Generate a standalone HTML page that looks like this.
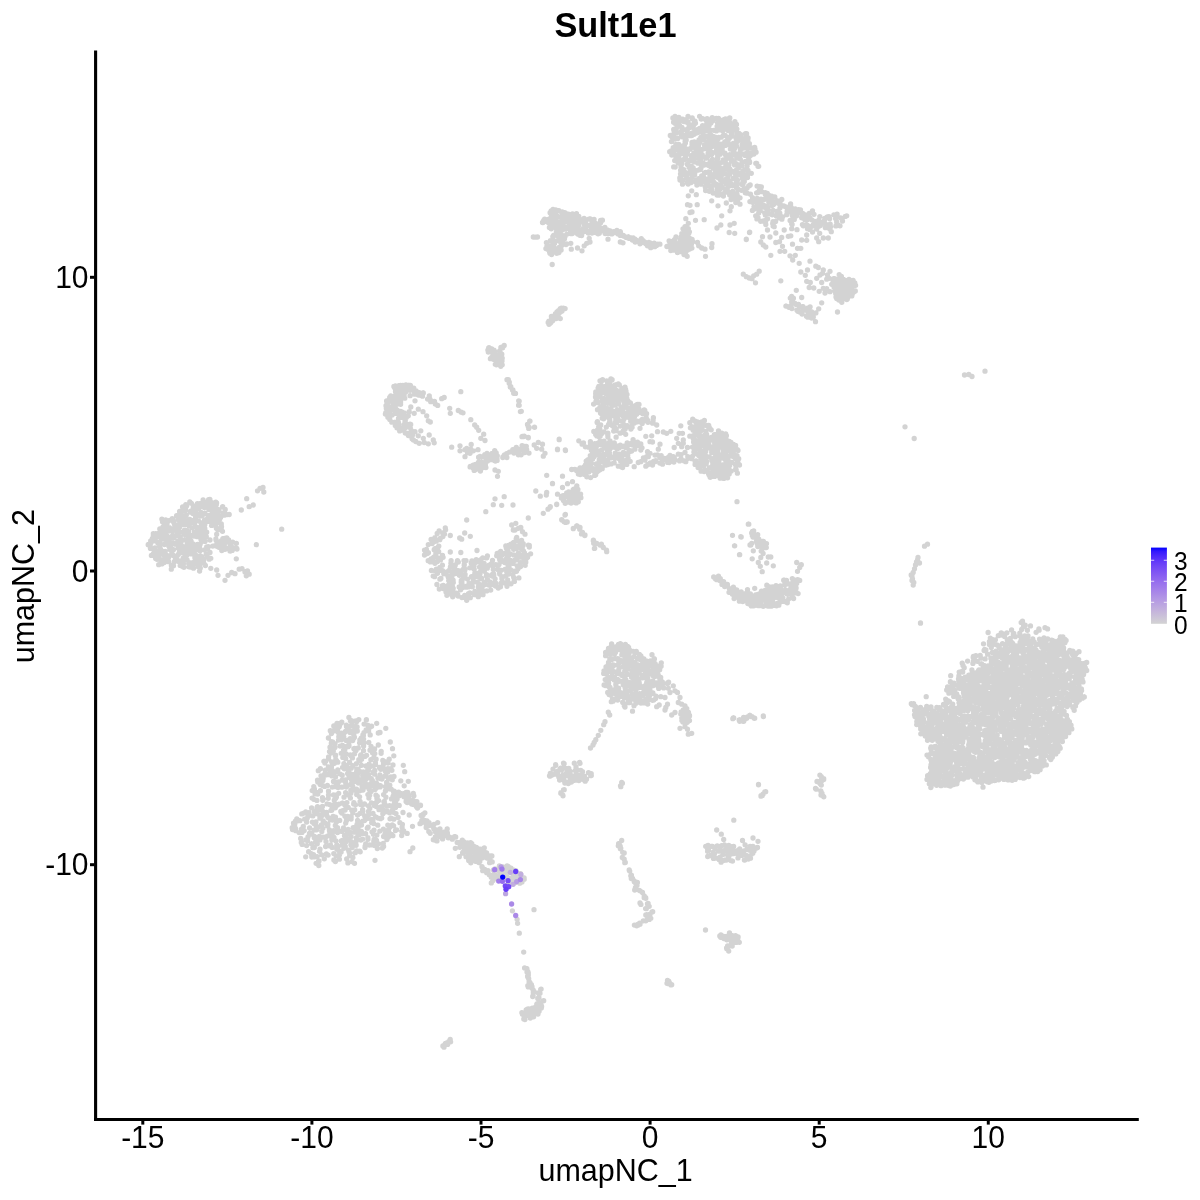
<!DOCTYPE html>
<html><head><meta charset="utf-8"><title>Sult1e1</title>
<style>
html,body{margin:0;padding:0;background:#fff;}
body{width:1200px;height:1200px;overflow:hidden;}
svg{display:block;will-change:transform;}
text{font-family:"Liberation Sans",sans-serif;fill:#000;}
.t{font-size:30.0px;}
.l{font-size:30.5px;}
.g{font-size:24.5px;}
</style></head><body>
<svg width="1200" height="1200" viewBox="0 0 1200 1200">
<path d="M723.2 120.0h0M672.9 117.9h0M675.0 116.3h0M678.9 117.5h0M682.7 119.1h0M686.2 119.7h0M688.0 116.4h0M692.3 118.4h0M699.6 116.3h0M709.7 120.1h0M708.8 120.0h0M712.2 117.7h0M718.5 118.4h0M729.8 118.0h0M673.6 122.2h0M675.6 119.1h0M680.2 120.4h0M682.9 120.3h0M685.4 121.7h0M688.0 122.8h0M692.2 117.9h0M702.7 118.6h0M706.3 120.4h0M707.1 118.6h0M712.6 121.0h0M716.3 118.4h0M719.3 122.1h0M725.5 118.8h0M729.1 118.4h0M729.4 121.6h0M675.0 123.3h0M677.9 122.0h0M683.8 121.6h0M686.3 122.0h0M689.1 124.7h0M695.0 121.2h0M694.1 122.3h0M695.5 123.1h0M701.2 119.0h0M706.5 124.6h0M709.4 124.7h0M710.9 123.1h0M717.6 122.8h0M722.6 123.7h0M722.0 120.9h0M726.1 122.7h0M729.0 123.1h0M732.8 123.9h0M734.9 121.7h0M674.2 122.4h0M679.2 124.8h0M677.8 126.6h0M681.9 127.5h0M688.1 122.0h0M689.6 125.0h0M694.7 123.7h0M697.9 129.5h0M702.6 125.6h0M702.3 129.3h0M706.9 126.5h0M707.9 125.0h0M717.1 126.5h0M717.8 124.9h0M721.1 125.0h0M721.6 125.7h0M726.1 122.1h0M731.8 125.7h0M733.1 125.7h0M736.5 124.4h0M676.0 129.7h0M676.5 128.1h0M683.7 129.7h0M688.9 127.9h0M687.7 129.0h0M693.4 125.5h0M694.9 129.9h0M699.6 128.5h0M703.3 129.0h0M705.0 127.5h0M708.4 128.3h0M713.8 130.3h0M716.4 130.9h0M717.9 130.1h0M723.2 129.9h0M724.6 127.3h0M726.8 126.7h0M732.6 125.8h0M735.6 130.2h0M740.8 134.9h0M673.7 129.5h0M674.1 131.8h0M680.8 132.2h0M681.5 131.2h0M687.5 132.7h0M693.1 127.5h0M694.2 132.2h0M694.3 132.5h0M698.5 132.3h0M703.6 131.7h0M707.9 130.9h0M710.6 130.1h0M719.9 129.9h0M722.4 130.0h0M722.6 130.7h0M728.1 130.6h0M731.0 128.9h0M731.5 133.9h0M736.9 129.1h0M739.0 133.4h0M746.6 133.7h0M674.0 134.8h0M676.3 132.9h0M681.3 135.1h0M684.6 135.3h0M690.4 133.6h0M694.1 134.3h0M693.4 132.4h0M696.4 133.1h0M703.1 134.4h0M706.5 136.5h0M712.8 136.3h0M710.1 134.4h0M715.2 137.2h0M718.6 137.4h0M723.8 134.9h0M727.5 137.2h0M731.6 133.1h0M736.8 134.5h0M737.7 133.8h0M740.8 134.6h0M745.5 133.7h0M671.7 136.8h0M682.7 136.9h0M686.2 140.1h0M685.7 136.6h0M689.4 135.7h0M691.8 135.6h0M697.1 142.5h0M700.8 137.4h0M703.6 139.5h0M709.0 139.0h0M712.9 139.0h0M713.0 136.5h0M717.9 139.2h0M721.2 137.2h0M725.1 135.5h0M728.1 139.5h0M731.7 136.2h0M736.0 137.6h0M737.8 133.9h0M740.7 138.3h0M745.3 138.1h0M745.5 138.0h0M671.4 141.6h0M674.7 139.1h0M677.8 138.5h0M685.3 139.3h0M685.6 139.3h0M685.4 143.0h0M692.0 142.3h0M694.3 142.0h0M699.5 142.7h0M699.0 139.9h0M706.8 143.2h0M708.9 141.0h0M710.3 140.1h0M714.0 138.2h0M716.3 139.8h0M725.0 142.0h0M728.0 141.9h0M729.3 138.2h0M733.3 143.5h0M736.3 139.0h0M742.1 140.2h0M740.3 140.0h0M747.9 139.8h0M748.1 137.8h0M675.9 144.3h0M678.8 144.3h0M684.8 144.1h0M685.1 141.3h0M692.0 144.3h0M694.1 143.4h0M697.5 144.7h0M700.0 141.4h0M704.4 144.9h0M707.3 142.1h0M711.5 141.8h0M716.9 141.2h0M713.4 142.4h0M721.0 144.1h0M724.8 142.0h0M726.3 143.5h0M732.9 143.9h0M737.3 141.4h0M742.1 144.9h0M746.1 142.1h0M749.4 143.6h0M673.2 147.7h0M677.1 145.9h0M677.4 149.4h0M682.4 146.2h0M685.7 148.6h0M690.3 149.2h0M691.7 147.2h0M692.7 147.1h0M698.5 145.8h0M697.9 147.6h0M705.4 146.3h0M708.7 145.3h0M712.1 146.6h0M716.1 145.5h0M718.8 148.2h0M722.1 148.0h0M725.3 145.4h0M729.2 145.0h0M730.3 145.5h0M736.5 145.9h0M741.7 148.0h0M743.7 148.1h0M745.8 146.1h0M750.3 147.3h0M754.7 147.5h0M671.1 151.0h0M677.3 147.1h0M681.6 149.7h0M683.0 148.8h0M683.9 149.3h0M689.5 148.9h0M695.4 148.3h0M696.1 149.5h0M702.5 149.3h0M704.4 148.5h0M706.5 148.7h0M710.7 151.7h0M712.2 152.9h0M716.6 149.7h0M723.3 152.3h0M722.2 148.7h0M732.1 146.6h0M730.4 149.0h0M733.6 153.0h0M735.0 148.1h0M740.6 149.3h0M746.8 154.0h0M747.3 148.3h0M751.3 147.8h0M755.0 149.2h0M672.5 154.3h0M673.6 151.8h0M680.8 153.0h0M684.0 151.9h0M683.2 153.7h0M688.7 149.6h0M695.2 152.3h0M693.8 153.4h0M700.5 151.3h0M698.8 154.0h0M708.1 153.4h0M708.7 150.2h0M711.6 154.6h0M717.1 153.7h0M718.7 152.8h0M721.3 152.2h0M725.0 153.2h0M733.1 150.1h0M734.0 151.1h0M736.7 155.2h0M740.2 152.0h0M744.5 153.9h0M747.6 152.4h0M749.5 153.0h0M753.9 150.9h0M756.1 152.2h0M671.8 155.1h0M677.6 154.7h0M678.9 156.9h0M687.5 151.6h0M686.1 154.6h0M691.0 155.6h0M692.3 158.8h0M696.9 154.5h0M702.2 154.7h0M704.1 156.8h0M707.6 156.4h0M709.1 152.8h0M712.2 152.4h0M717.7 156.8h0M720.2 154.2h0M728.4 158.0h0M725.6 155.0h0M729.9 154.6h0M734.7 154.7h0M737.9 154.1h0M740.2 155.1h0M745.1 155.4h0M748.1 153.7h0M750.4 155.4h0M753.9 154.1h0M676.0 158.0h0M679.6 160.3h0M679.0 159.4h0M685.5 157.1h0M689.0 160.5h0M694.2 158.8h0M692.3 156.8h0M699.0 158.6h0M700.5 159.1h0M705.8 157.7h0M707.0 157.4h0M712.4 159.3h0M717.2 158.7h0M717.9 158.1h0M725.2 160.0h0M725.9 159.3h0M730.8 155.7h0M731.4 159.2h0M736.7 158.2h0M739.9 153.4h0M740.3 159.1h0M746.6 161.9h0M748.7 159.2h0M674.7 160.6h0M679.0 161.0h0M678.1 162.7h0M682.0 163.5h0M683.9 159.4h0M687.7 163.3h0M693.9 160.1h0M697.9 163.2h0M700.8 162.4h0M703.2 163.0h0M705.8 158.2h0M710.2 161.7h0M718.0 162.5h0M723.3 160.0h0M723.6 162.0h0M725.8 163.5h0M731.4 161.1h0M733.9 161.7h0M736.5 163.9h0M742.9 161.9h0M745.6 161.5h0M749.5 161.6h0M679.2 163.3h0M681.1 165.2h0M687.5 164.6h0M690.2 159.9h0M690.1 160.9h0M694.4 161.9h0M699.6 163.3h0M703.7 165.2h0M707.1 164.8h0M707.6 164.2h0M710.8 165.3h0M715.1 163.1h0M718.2 165.7h0M720.3 162.9h0M725.9 163.9h0M729.0 164.7h0M734.6 164.9h0M734.7 164.5h0M741.1 164.5h0M741.8 163.7h0M747.1 166.0h0M749.6 162.4h0M673.7 166.9h0M675.2 167.1h0M681.0 167.0h0M683.8 169.7h0M689.0 167.2h0M690.4 169.1h0M691.4 166.5h0M699.3 163.3h0M698.4 170.1h0M703.3 164.6h0M710.4 166.5h0M709.2 165.8h0M713.1 168.2h0M716.2 166.9h0M720.4 168.1h0M724.7 167.6h0M729.8 168.8h0M728.3 168.0h0M736.3 170.1h0M739.1 167.6h0M741.8 165.5h0M744.6 169.9h0M746.6 169.6h0M680.6 170.3h0M682.7 169.9h0M683.1 171.3h0M693.2 168.0h0M691.8 169.3h0M694.8 172.8h0M700.3 169.6h0M704.5 173.0h0M708.6 171.8h0M712.8 165.3h0M715.0 168.1h0M719.8 171.0h0M723.8 169.6h0M728.5 169.7h0M732.6 171.3h0M735.3 171.1h0M742.9 171.5h0M743.9 170.6h0M747.5 170.1h0M748.0 170.3h0M680.5 173.8h0M681.7 175.3h0M686.6 173.0h0M690.5 173.0h0M694.8 170.3h0M694.6 174.9h0M701.0 168.1h0M705.5 172.5h0M709.6 172.5h0M712.4 174.9h0M715.9 174.9h0M720.2 176.7h0M725.5 173.9h0M728.3 175.8h0M730.6 172.1h0M735.5 174.3h0M739.9 173.2h0M740.4 175.0h0M745.7 176.4h0M748.1 172.2h0M747.5 174.9h0M679.8 177.9h0M681.0 175.1h0M687.7 173.8h0M686.4 175.9h0M693.3 173.8h0M694.5 174.5h0M699.1 178.3h0M701.7 176.0h0M703.4 176.7h0M709.9 175.6h0M715.2 175.9h0M715.3 170.9h0M719.8 175.3h0M721.3 176.1h0M723.6 172.8h0M730.0 174.1h0M735.9 177.4h0M736.2 179.1h0M736.3 175.2h0M742.5 178.4h0M743.6 175.0h0M680.8 176.5h0M688.0 178.9h0M692.2 177.0h0M696.3 180.2h0M700.1 181.2h0M704.2 179.8h0M706.4 179.1h0M712.8 178.1h0M715.9 184.1h0M717.3 177.3h0M720.1 179.5h0M721.5 180.4h0M725.7 179.5h0M729.6 181.1h0M733.2 178.3h0M737.1 182.2h0M737.5 180.1h0M744.6 176.6h0M683.1 180.1h0M688.1 184.0h0M687.5 183.1h0M691.2 180.5h0M695.7 181.8h0M697.2 182.2h0M701.1 184.2h0M710.1 181.0h0M706.4 183.8h0M710.6 176.3h0M714.1 182.3h0M720.2 186.9h0M721.9 182.6h0M725.9 181.2h0M728.0 180.0h0M732.7 185.0h0M736.3 181.0h0M742.9 182.2h0M743.3 181.7h0M744.3 181.4h0M691.1 182.6h0M696.9 185.0h0M701.6 182.3h0M708.4 185.8h0M708.6 182.3h0M713.5 185.2h0M720.4 187.3h0M718.4 185.0h0M726.4 184.1h0M729.1 183.9h0M731.0 183.5h0M732.7 185.7h0M736.2 185.6h0M741.6 184.3h0M743.0 184.3h0M749.4 185.8h0M750.2 185.0h0M705.3 187.1h0M709.7 186.5h0M713.6 185.1h0M718.5 188.8h0M717.6 186.3h0M722.3 187.5h0M729.2 186.0h0M736.5 187.4h0M736.5 186.0h0M738.2 189.1h0M744.1 188.8h0M747.1 188.1h0M748.7 185.9h0M705.6 190.5h0M711.5 189.4h0M709.3 191.3h0M717.1 189.5h0M720.6 188.5h0M727.2 192.0h0M727.3 189.0h0M726.8 189.0h0M732.6 191.3h0M737.9 189.9h0M741.5 190.3h0M742.7 189.8h0M750.5 194.1h0M713.1 193.0h0M717.2 191.8h0M719.0 191.6h0M725.1 192.2h0M729.7 195.0h0M729.7 192.5h0M730.9 195.7h0M734.0 193.6h0M740.0 197.8h0M745.3 192.8h0M747.0 193.2h0M717.1 195.1h0M718.7 195.2h0M721.3 194.0h0M723.4 196.1h0M733.7 198.8h0M734.9 196.7h0M737.1 194.7h0M731.1 199.5h0M733.5 196.7h0M736.6 197.9h0M737.2 198.0h0M755.8 163.3h0M758.0 166.3h0M751.3 173.3h0M670.3 135.5h0M669.7 151.7h0M682.5 184.2h0M680.0 180.0h0M691.7 190.8h0M688.3 195.8h0M696.3 194.7h0M687.5 204.7h0M690.0 205.3h0M697.2 204.7h0M690.0 212.5h0M692.0 212.0h0M685.8 218.7h0M688.3 223.3h0M695.5 220.3h0M704.2 219.7h0M685.0 226.7h0M687.0 229.2h0M685.2 228.8h0M683.0 228.8h0M686.5 228.3h0M688.3 228.7h0M684.7 231.2h0M686.3 233.6h0M689.4 231.8h0M681.8 233.6h0M684.6 234.0h0M685.5 232.4h0M688.9 233.1h0M681.3 236.7h0M684.6 236.6h0M687.3 235.4h0M689.2 237.8h0M674.8 239.3h0M676.0 236.8h0M680.9 239.1h0M682.9 239.5h0M684.9 239.0h0M689.0 238.5h0M692.1 239.5h0M669.1 240.8h0M673.0 241.3h0M675.4 243.0h0M680.2 239.9h0M683.6 239.4h0M686.5 241.1h0M686.9 242.5h0M688.0 242.3h0M692.8 241.7h0M669.6 245.2h0M672.2 241.4h0M672.8 241.8h0M677.2 244.3h0M679.0 244.0h0M683.5 243.4h0M686.3 243.7h0M689.2 243.0h0M691.4 244.3h0M666.9 246.5h0M669.8 244.8h0M673.4 246.9h0M676.1 244.8h0M677.9 245.1h0M679.8 246.0h0M684.1 244.7h0M685.7 245.5h0M689.3 246.5h0M667.3 246.4h0M670.6 246.8h0M675.6 249.4h0M678.5 250.0h0M680.6 248.7h0M683.2 248.7h0M687.6 250.0h0M690.4 246.0h0M691.9 248.1h0M673.3 250.2h0M678.8 249.8h0M680.8 251.6h0M685.7 251.6h0M685.8 252.0h0M689.6 249.1h0M684.0 253.2h0M684.0 254.6h0M697.5 242.5h0M698.7 245.8h0M701.7 248.0h0M705.0 249.2h0M705.5 256.3h0M712.0 243.7h0M711.7 247.5h0M687.2 256.3h0M677.5 252.5h0M670.8 250.5h0M711.7 200.8h0M718.0 205.8h0M726.3 203.0h0M731.3 206.7h0M730.0 210.8h0M721.7 215.8h0M720.8 225.0h0M717.0 228.0h0M730.0 225.0h0M734.2 223.3h0M729.2 232.5h0M734.7 233.3h0M749.5 232.5h0M746.3 239.2h0M737.5 200.0h0M740.0 204.2h0M735.8 202.5h0M757.1 186.1h0M760.8 187.8h0M761.4 186.9h0M759.2 191.0h0M765.1 192.6h0M765.3 194.5h0M750.5 194.3h0M756.6 192.8h0M758.0 192.6h0M761.6 191.7h0M767.3 193.5h0M768.5 194.8h0M756.5 198.9h0M757.1 198.3h0M760.8 201.6h0M769.4 196.0h0M768.8 202.0h0M771.3 197.8h0M774.8 197.0h0M752.5 197.6h0M758.2 199.1h0M761.0 199.1h0M764.1 199.5h0M766.7 198.3h0M771.7 196.2h0M772.2 200.3h0M777.5 200.9h0M781.8 199.4h0M749.9 201.6h0M752.6 202.3h0M757.2 202.7h0M761.1 203.0h0M763.6 205.2h0M772.3 202.4h0M775.1 202.4h0M778.2 203.3h0M789.4 206.7h0M790.6 204.0h0M754.0 206.8h0M755.5 207.4h0M761.0 207.3h0M764.6 207.4h0M766.9 206.2h0M768.1 209.3h0M773.5 204.4h0M779.9 208.0h0M780.2 203.6h0M785.2 206.6h0M790.2 207.0h0M791.2 207.3h0M795.2 209.0h0M752.4 210.4h0M754.2 209.1h0M760.2 210.7h0M759.2 207.2h0M767.8 209.5h0M767.6 208.5h0M772.1 205.4h0M773.1 210.3h0M783.8 206.0h0M787.4 209.8h0M792.0 210.2h0M794.0 209.9h0M798.7 209.6h0M800.5 209.8h0M759.0 211.6h0M758.7 213.1h0M766.1 212.5h0M767.2 211.5h0M772.2 214.8h0M777.4 211.1h0M776.4 215.9h0M779.8 213.1h0M787.1 211.5h0M788.0 211.9h0M791.7 212.6h0M798.0 212.8h0M800.6 211.1h0M802.7 213.5h0M804.6 214.7h0M809.2 213.4h0M835.8 215.3h0M755.7 215.8h0M765.3 215.0h0M764.6 212.9h0M769.6 213.8h0M771.8 213.5h0M776.9 215.8h0M777.2 214.0h0M781.9 219.2h0M786.7 214.7h0M788.3 211.5h0M792.7 212.3h0M796.6 214.6h0M802.1 214.6h0M807.3 216.1h0M814.0 214.3h0M829.0 216.7h0M833.9 214.8h0M837.1 214.1h0M845.3 216.4h0M756.9 218.9h0M758.0 217.6h0M764.7 220.7h0M767.6 218.8h0M773.0 221.6h0M779.1 217.9h0M782.6 216.8h0M790.1 220.5h0M792.3 215.6h0M796.7 215.8h0M801.7 217.8h0M806.9 220.1h0M811.7 219.8h0M818.8 220.1h0M819.8 216.6h0M824.8 218.3h0M827.4 217.0h0M829.6 218.7h0M836.3 217.6h0M835.6 218.5h0M840.6 217.8h0M760.7 221.3h0M762.7 221.2h0M765.6 221.4h0M772.7 223.5h0M775.6 221.5h0M791.6 223.5h0M794.3 219.4h0M804.9 219.7h0M810.0 218.1h0M814.7 221.5h0M817.1 224.0h0M824.4 220.6h0M821.1 222.2h0M825.3 224.1h0M830.2 224.1h0M836.7 221.9h0M842.5 221.0h0M773.1 226.1h0M792.1 224.4h0M802.4 224.6h0M806.2 224.9h0M807.5 225.4h0M812.0 226.2h0M821.1 223.0h0M820.3 225.6h0M825.9 225.5h0M826.0 224.3h0M830.6 226.8h0M835.9 225.9h0M837.2 224.1h0M810.0 228.5h0M813.2 225.0h0M818.9 226.3h0M825.4 227.7h0M827.5 226.6h0M829.8 229.1h0M809.7 229.4h0M816.7 229.0h0M828.7 227.1h0M756.7 163.3h0M758.7 166.3h0M751.3 173.3h0M747.5 177.5h0M759.7 186.7h0M846.7 215.8h0M812.5 210.8h0M749.7 232.2h0M746.3 239.5h0M765.8 224.5h0M767.5 230.0h0M762.5 236.7h0M770.0 237.0h0M775.8 233.0h0M774.2 226.7h0M784.2 230.0h0M791.7 228.7h0M797.0 229.7h0M803.3 225.8h0M807.5 228.7h0M812.5 232.0h0M806.7 235.0h0M790.8 235.8h0M788.3 236.3h0M781.7 237.5h0M775.8 242.5h0M779.5 241.7h0M760.8 242.0h0M763.3 245.0h0M765.8 247.0h0M782.5 246.3h0M792.5 244.2h0M797.5 248.3h0M800.8 248.3h0M780.0 251.3h0M784.7 251.3h0M770.8 255.3h0M790.0 255.8h0M795.3 255.3h0M792.7 260.0h0M799.2 263.3h0M810.0 261.2h0M801.7 240.0h0M806.7 240.3h0M819.7 233.3h0M816.7 238.0h0M818.7 241.7h0M823.3 238.0h0M828.3 238.0h0M831.3 231.7h0M840.0 225.8h0M743.3 274.2h0M746.3 276.7h0M749.2 278.0h0M752.0 278.7h0M753.7 275.8h0M756.7 274.2h0M759.2 271.2h0M755.5 282.8h0M780.8 280.8h0M834.6 278.7h0M839.2 274.6h0M841.4 276.4h0M849.0 279.5h0M833.7 278.6h0M834.7 280.0h0M837.1 279.3h0M838.7 279.3h0M843.5 279.5h0M846.4 280.6h0M853.1 280.4h0M833.1 280.9h0M835.2 282.3h0M837.8 282.4h0M841.9 282.5h0M846.2 282.9h0M848.5 280.6h0M851.4 281.9h0M854.8 282.9h0M831.7 284.3h0M834.7 280.9h0M838.9 287.4h0M841.9 285.4h0M842.8 284.7h0M845.4 283.9h0M847.7 285.3h0M851.3 284.8h0M855.6 285.3h0M834.1 287.3h0M838.6 288.9h0M837.1 287.1h0M842.2 288.6h0M844.9 287.0h0M849.7 286.1h0M851.9 287.1h0M850.9 286.2h0M834.9 290.8h0M838.1 288.9h0M838.8 288.3h0M845.3 289.0h0M845.6 289.1h0M848.0 289.8h0M852.5 290.2h0M855.3 291.0h0M837.0 291.6h0M841.1 291.9h0M842.0 294.6h0M845.6 291.3h0M848.3 291.2h0M851.7 288.6h0M854.2 291.7h0M835.7 293.6h0M840.1 295.6h0M839.9 294.0h0M844.3 293.2h0M846.1 295.9h0M848.8 296.2h0M852.3 293.9h0M836.0 297.0h0M837.2 296.9h0M841.0 297.2h0M844.9 296.2h0M851.8 295.9h0M836.7 298.5h0M838.9 300.0h0M841.3 298.9h0M842.9 298.9h0M847.3 298.9h0M846.8 299.6h0M841.8 302.3h0M815.8 266.2h0M818.3 267.5h0M823.3 270.0h0M830.0 271.3h0M822.5 273.3h0M820.0 275.0h0M827.5 275.0h0M816.7 278.3h0M826.7 279.2h0M829.2 278.3h0M821.7 282.5h0M807.5 270.0h0M800.8 272.0h0M805.3 275.3h0M806.7 281.3h0M810.3 282.5h0M809.2 287.5h0M813.8 288.0h0M819.2 291.3h0M823.3 288.3h0M826.7 288.7h0M825.0 293.0h0M830.0 291.7h0M837.5 312.0h0M821.7 302.8h0M818.7 308.8h0M796.3 290.3h0M801.7 297.5h0M815.5 321.7h0M791.6 296.5h0M793.4 298.2h0M790.3 298.1h0M791.9 298.3h0M791.7 302.0h0M792.7 300.7h0M786.1 306.1h0M789.6 307.2h0M790.6 305.8h0M795.0 303.4h0M798.5 304.5h0M803.0 306.7h0M785.9 306.1h0M788.9 307.3h0M791.9 308.5h0M796.5 304.7h0M799.5 306.8h0M802.4 306.6h0M808.1 307.8h0M810.1 306.8h0M797.0 310.2h0M797.9 311.3h0M803.1 310.6h0M802.9 309.5h0M806.8 308.7h0M811.2 311.7h0M799.8 312.1h0M802.1 314.0h0M807.8 311.7h0M811.7 311.9h0M811.9 312.9h0M815.9 312.9h0M806.5 316.2h0M807.8 317.2h0M811.0 315.2h0M813.3 316.9h0M808.1 316.9h0M811.6 318.1h0M553.0 209.5h0M551.2 211.0h0M555.7 210.0h0M557.0 210.3h0M562.2 212.0h0M563.7 212.3h0M550.1 212.7h0M554.8 212.7h0M556.8 215.7h0M558.9 210.7h0M561.7 212.5h0M565.3 213.0h0M572.5 213.9h0M576.5 213.7h0M551.1 217.1h0M552.3 212.9h0M555.2 214.7h0M560.8 217.0h0M561.0 217.0h0M565.1 216.4h0M568.5 214.2h0M570.5 216.0h0M572.2 216.7h0M575.9 216.6h0M578.8 216.5h0M544.6 219.2h0M549.1 219.2h0M551.1 217.3h0M556.1 218.2h0M556.2 220.3h0M560.0 221.8h0M563.1 221.2h0M565.8 218.0h0M569.0 219.9h0M570.8 219.0h0M575.0 219.5h0M578.0 219.5h0M583.4 219.2h0M584.1 218.5h0M588.8 219.1h0M590.2 218.9h0M594.1 219.3h0M600.6 220.4h0M543.0 222.6h0M543.7 220.5h0M547.3 219.7h0M547.4 221.7h0M552.5 222.5h0M553.8 219.4h0M560.0 221.9h0M562.0 222.3h0M566.1 221.7h0M567.2 220.7h0M572.1 220.7h0M572.9 219.4h0M578.7 222.4h0M580.8 221.6h0M582.1 220.8h0M584.9 221.4h0M589.6 218.8h0M592.1 223.5h0M592.0 220.8h0M595.3 223.2h0M600.7 221.1h0M602.4 220.2h0M548.6 222.8h0M552.5 224.1h0M556.0 224.2h0M559.4 225.7h0M561.4 223.0h0M563.2 225.2h0M566.4 221.8h0M569.1 225.3h0M571.2 224.0h0M574.8 224.0h0M576.2 222.7h0M580.7 220.0h0M584.1 224.0h0M585.7 223.1h0M590.5 224.8h0M593.7 222.6h0M594.5 225.6h0M597.9 224.2h0M600.6 222.8h0M549.4 227.4h0M550.7 226.5h0M555.2 225.5h0M558.1 227.1h0M563.5 227.2h0M566.5 228.3h0M569.7 226.8h0M569.3 227.0h0M572.4 227.8h0M575.9 227.4h0M578.7 225.5h0M583.0 228.7h0M584.8 225.4h0M587.2 225.7h0M590.9 226.6h0M594.1 227.5h0M598.4 226.8h0M598.9 224.8h0M604.9 227.5h0M604.9 227.7h0M551.2 228.8h0M555.8 227.8h0M558.4 231.7h0M562.3 228.6h0M562.4 229.0h0M565.2 227.5h0M569.3 228.7h0M573.1 229.7h0M575.2 228.4h0M579.6 230.3h0M581.3 230.3h0M582.4 230.0h0M585.6 229.4h0M590.6 230.5h0M592.8 229.8h0M595.4 229.5h0M599.7 231.6h0M601.7 228.3h0M603.2 229.8h0M607.4 229.8h0M556.4 231.6h0M558.0 231.0h0M562.1 230.0h0M565.3 229.2h0M569.2 228.6h0M570.2 230.3h0M572.9 230.6h0M576.5 232.4h0M579.7 231.8h0M580.6 232.3h0M585.3 231.3h0M588.3 233.0h0M590.6 232.4h0M595.5 232.5h0M599.4 228.7h0M599.9 230.9h0M604.0 231.2h0M607.7 231.3h0M610.1 230.8h0M613.8 231.7h0M615.2 232.4h0M554.1 235.2h0M557.8 231.9h0M560.0 233.4h0M562.7 235.6h0M566.7 234.3h0M570.4 233.6h0M572.3 233.5h0M577.7 234.0h0M579.9 235.3h0M581.8 233.9h0M592.0 233.0h0M599.3 233.3h0M598.1 233.8h0M605.2 233.5h0M608.2 233.4h0M611.8 233.9h0M553.6 235.3h0M555.9 235.0h0M557.1 235.5h0M561.7 235.1h0M564.5 238.8h0M565.0 236.4h0M581.6 235.5h0M550.4 240.6h0M552.8 236.7h0M557.6 240.6h0M560.5 241.6h0M561.5 238.4h0M546.4 242.6h0M552.9 239.5h0M554.1 243.1h0M559.2 240.2h0M560.7 242.3h0M562.7 243.1h0M548.3 245.7h0M552.2 246.5h0M552.8 243.7h0M554.5 243.5h0M561.6 245.6h0M566.0 244.5h0M566.6 243.9h0M546.9 246.4h0M548.0 245.5h0M552.2 246.5h0M553.9 247.6h0M559.4 247.1h0M560.7 247.4h0M545.9 248.6h0M547.7 249.3h0M550.8 249.9h0M557.5 248.7h0M556.9 252.8h0M561.1 250.0h0M549.6 252.0h0M551.7 249.8h0M554.7 251.7h0M558.9 252.6h0M549.9 253.4h0M551.6 254.5h0M556.8 253.3h0M542.5 222.5h0M533.3 237.0h0M537.5 237.0h0M535.5 237.2h0M552.2 264.5h0M571.3 249.2h0M570.8 243.3h0M577.5 248.0h0M582.0 250.8h0M584.2 245.8h0M586.7 243.3h0M590.0 242.0h0M589.2 238.3h0M608.0 239.2h0M620.3 242.0h0M623.0 242.8h0M647.5 245.8h0M640.0 243.8h0M614.7 232.6h0M615.7 232.7h0M616.9 230.5h0M615.4 232.7h0M618.1 233.9h0M620.3 231.7h0M620.3 235.4h0M620.4 231.9h0M623.6 236.1h0M621.8 235.3h0M626.3 237.4h0M623.7 235.8h0M623.3 235.3h0M625.4 236.8h0M626.8 237.5h0M628.4 237.0h0M628.2 236.8h0M629.2 238.4h0M632.4 240.0h0M631.3 237.9h0M633.2 237.9h0M635.0 239.1h0M635.2 242.0h0M636.6 241.4h0M636.6 240.5h0M641.3 238.7h0M639.8 241.0h0M642.5 240.6h0M643.1 240.6h0M642.5 242.4h0M644.3 242.7h0M644.9 242.1h0M646.2 244.1h0M646.3 242.7h0M647.2 242.9h0M649.0 242.7h0M650.1 243.0h0M650.7 247.7h0M648.9 242.5h0M654.2 243.1h0M653.2 243.6h0M654.7 246.7h0M655.7 244.3h0M656.5 245.4h0M657.9 244.2h0M659.9 244.2h0M549.0 321.6h0M550.4 322.9h0M548.9 321.1h0M549.0 324.3h0M548.2 322.4h0M550.6 322.8h0M550.1 323.2h0M551.4 319.4h0M551.6 317.9h0M552.0 320.2h0M550.9 322.5h0M552.6 320.8h0M555.0 317.4h0M551.4 316.5h0M553.5 317.6h0M552.4 316.8h0M556.2 318.5h0M555.6 318.0h0M554.9 317.9h0M555.4 318.7h0M557.6 315.7h0M554.0 317.9h0M555.6 316.1h0M560.3 318.6h0M554.6 315.3h0M558.0 313.7h0M559.2 312.0h0M555.5 313.7h0M556.8 312.4h0M558.1 312.6h0M558.9 313.4h0M559.5 311.8h0M558.5 310.7h0M557.0 311.9h0M558.0 312.2h0M560.7 311.7h0M562.0 310.9h0M561.9 308.5h0M565.1 308.6h0M561.4 308.2h0M560.3 308.7h0M563.3 308.2h0M502.7 347.8h0M489.0 347.6h0M491.8 349.0h0M500.9 347.4h0M500.9 347.3h0M502.5 347.2h0M487.9 350.1h0M492.3 349.7h0M494.1 351.8h0M494.6 351.3h0M499.7 351.0h0M488.3 352.0h0M492.8 353.4h0M494.0 350.2h0M497.8 354.9h0M500.6 353.2h0M491.6 357.4h0M494.2 356.6h0M494.3 355.1h0M497.5 355.2h0M501.8 354.2h0M490.4 358.7h0M491.6 358.5h0M494.8 356.5h0M498.2 356.1h0M502.2 358.2h0M493.4 359.3h0M497.3 360.6h0M498.0 360.5h0M502.0 361.0h0M495.3 364.3h0M497.0 362.5h0M500.1 362.4h0M500.9 362.0h0M496.4 364.8h0M498.9 364.2h0M502.2 364.8h0M500.9 365.4h0M504.2 345.5h0M488.7 348.0h0M500.8 366.3h0M507.0 379.7h0M508.3 379.6h0M509.2 383.3h0M509.3 382.2h0M510.8 386.7h0M510.2 387.0h0M512.5 390.0h0M512.9 389.9h0M513.7 393.3h0M515.5 393.4h0M518.7 400.8h0M519.2 401.1h0M519.2 405.3h0M518.6 405.2h0M521.3 411.3h0M520.4 411.6h0M529.7 421.2h0M530.0 421.1h0M527.5 424.5h0M528.1 425.9h0M529.2 427.5h0M528.7 428.4h0M534.5 427.2h0M534.6 427.3h0M522.0 436.7h0M522.3 436.5h0M524.2 436.2h0M523.8 436.5h0M528.3 437.5h0M528.3 437.8h0M400.5 385.3h0M399.8 386.6h0M395.4 385.9h0M393.9 386.4h0M397.0 388.4h0M402.9 385.3h0M405.9 384.8h0M394.5 387.5h0M398.4 388.6h0M404.1 390.2h0M406.5 389.5h0M405.3 387.1h0M395.5 391.5h0M397.4 393.0h0M398.2 392.1h0M405.9 391.8h0M404.0 394.2h0M390.8 395.8h0M395.4 395.5h0M397.9 393.7h0M400.7 393.7h0M401.9 394.0h0M389.5 399.3h0M396.3 399.3h0M393.9 397.2h0M401.9 397.8h0M399.5 399.3h0M404.3 394.3h0M386.6 401.0h0M387.4 402.3h0M389.7 397.4h0M395.9 401.1h0M395.3 401.2h0M397.8 397.6h0M404.8 398.2h0M387.0 402.5h0M389.3 401.6h0M392.5 399.9h0M396.9 404.3h0M397.8 404.0h0M386.0 405.7h0M389.2 406.4h0M393.0 406.4h0M393.6 403.9h0M400.6 404.3h0M400.6 401.9h0M386.3 408.3h0M390.3 408.5h0M392.5 408.8h0M396.0 409.2h0M385.9 412.3h0M390.4 410.3h0M394.6 410.5h0M397.5 410.3h0M400.8 411.4h0M385.8 413.9h0M385.4 414.0h0M388.1 414.5h0M392.1 415.1h0M395.1 413.4h0M400.8 412.2h0M402.3 412.2h0M404.1 412.8h0M387.9 417.2h0M390.3 414.5h0M399.0 414.8h0M402.0 415.7h0M402.1 417.4h0M406.3 417.4h0M389.8 419.5h0M398.5 418.5h0M399.4 417.2h0M403.9 415.8h0M405.1 416.8h0M391.8 422.2h0M394.3 422.5h0M397.4 421.9h0M398.4 422.4h0M405.0 421.0h0M405.3 420.5h0M395.1 422.3h0M398.5 424.3h0M403.8 424.6h0M405.2 426.9h0M408.1 424.6h0M410.7 424.5h0M395.3 425.6h0M399.8 427.7h0M405.2 425.9h0M405.6 427.6h0M410.1 424.1h0M396.9 427.8h0M402.7 430.1h0M404.6 428.3h0M410.3 427.8h0M411.2 430.3h0M399.7 430.9h0M405.3 433.0h0M407.2 433.3h0M410.8 433.0h0M412.7 434.8h0M408.4 435.6h0M411.6 434.9h0M412.1 432.1h0M411.1 436.0h0M412.1 438.7h0M413.4 439.9h0M415.8 441.5h0M408.3 385.3h0M398.9 385.6h0M405.0 387.9h0M406.7 386.2h0M411.5 388.4h0M403.0 388.4h0M407.1 389.8h0M409.8 388.9h0M413.8 388.2h0M416.1 390.8h0M400.3 391.3h0M410.1 390.3h0M410.7 389.1h0M415.7 391.2h0M418.4 395.0h0M423.3 392.9h0M404.8 391.0h0M410.1 395.7h0M414.7 394.2h0M420.0 393.8h0M421.1 395.6h0M422.5 396.2h0M409.1 385.4h0M410.4 385.4h0M415.8 391.2h0M412.3 389.7h0M414.4 391.7h0M419.2 392.6h0M423.0 392.8h0M420.5 394.5h0M422.9 393.5h0M429.3 395.9h0M427.6 399.1h0M429.8 398.9h0M429.4 398.8h0M430.7 401.7h0M432.5 401.3h0M434.5 401.3h0M435.3 404.1h0M437.7 405.4h0M441.7 398.7h0M444.2 397.5h0M415.0 400.8h0M410.8 407.0h0M418.3 409.2h0M423.0 411.7h0M414.2 413.3h0M426.7 415.8h0M428.3 420.8h0M430.3 422.0h0M409.2 411.7h0M408.3 415.8h0M415.0 431.7h0M420.8 430.8h0M418.3 435.8h0M423.3 438.3h0M429.2 435.0h0M433.3 440.0h0M434.2 442.8h0M428.3 443.8h0M424.2 442.5h0M419.2 443.3h0M449.7 408.3h0M450.3 413.3h0M458.3 410.5h0M461.3 412.2h0M463.0 412.8h0M460.8 391.7h0M470.8 419.7h0M474.7 425.0h0M476.7 427.2h0M478.7 430.3h0M483.7 434.2h0M480.8 438.3h0M485.0 440.5h0M471.2 444.5h0M451.7 447.2h0M460.0 445.8h0M460.0 450.8h0M465.0 449.7h0M467.5 452.5h0M465.0 456.7h0M470.0 453.3h0M473.3 450.8h0M478.0 449.7h0M470.8 449.2h0M466.7 448.3h0M516.3 447.5h0M522.1 445.7h0M526.3 446.3h0M514.2 450.7h0M517.6 449.3h0M520.6 449.2h0M524.8 446.3h0M526.7 449.7h0M494.7 450.7h0M509.5 452.1h0M512.8 449.7h0M515.9 448.3h0M518.7 452.9h0M519.6 450.4h0M523.7 449.9h0M492.1 453.5h0M496.2 453.0h0M511.9 451.6h0M513.9 453.0h0M518.4 454.8h0M521.1 454.8h0M524.7 452.5h0M529.0 453.1h0M480.0 456.4h0M478.6 457.2h0M484.8 454.6h0M487.0 453.5h0M487.1 455.6h0M490.9 457.7h0M495.2 456.1h0M497.2 455.8h0M502.9 457.0h0M504.5 454.8h0M506.6 453.7h0M519.1 454.3h0M481.1 456.9h0M480.8 456.6h0M485.8 458.5h0M487.5 458.0h0M489.9 459.1h0M494.2 455.6h0M497.0 458.2h0M497.3 455.8h0M502.9 457.3h0M504.9 456.1h0M506.9 457.6h0M478.9 462.1h0M481.6 462.2h0M487.6 460.9h0M488.9 460.1h0M494.5 460.4h0M495.4 461.0h0M502.8 457.5h0M475.6 464.4h0M478.6 462.1h0M480.0 462.6h0M485.8 462.1h0M485.4 465.2h0M491.5 459.6h0M497.1 460.4h0M470.3 466.5h0M473.2 465.1h0M476.6 468.1h0M479.4 465.0h0M482.1 466.0h0M485.2 466.7h0M470.1 466.9h0M473.5 468.4h0M479.9 467.0h0M483.5 467.5h0M485.9 467.6h0M474.2 470.4h0M475.4 469.8h0M480.4 471.0h0M534.2 445.0h0M538.3 442.5h0M542.5 444.2h0M536.7 448.3h0M541.7 449.2h0M545.0 453.3h0M543.3 456.2h0M559.2 439.2h0M557.5 449.2h0M565.3 450.0h0M495.0 470.0h0M498.3 471.3h0M497.5 476.3h0M546.7 475.3h0M562.5 476.2h0M552.5 483.3h0M535.8 491.0h0M540.3 496.2h0M546.7 492.5h0M546.3 495.0h0M556.7 504.2h0M550.3 506.7h0M548.0 509.2h0M543.3 513.3h0M528.3 518.0h0M495.0 498.8h0M504.2 496.7h0M493.3 504.7h0M501.7 505.3h0M513.0 505.0h0M485.8 511.7h0M466.7 520.0h0M612.1 379.7h0M602.6 379.6h0M606.7 380.8h0M610.9 379.0h0M611.9 380.0h0M602.2 386.4h0M601.4 381.5h0M607.6 382.7h0M609.6 383.5h0M609.8 382.0h0M614.8 385.1h0M618.3 383.9h0M618.6 384.8h0M598.1 388.1h0M599.8 386.4h0M603.8 388.5h0M607.5 387.4h0M611.8 386.2h0M614.6 386.1h0M614.7 386.4h0M616.5 384.7h0M619.3 384.9h0M625.0 387.2h0M598.8 386.3h0M604.8 386.6h0M606.2 386.5h0M609.2 390.9h0M608.0 387.9h0M613.8 390.4h0M616.5 390.4h0M619.9 390.9h0M621.9 388.3h0M625.6 389.4h0M595.8 391.9h0M598.5 389.5h0M600.1 389.1h0M605.8 392.4h0M607.0 389.0h0M612.8 390.1h0M615.6 391.3h0M613.9 391.4h0M620.1 391.4h0M623.9 392.6h0M625.4 389.7h0M626.0 391.2h0M595.7 393.7h0M600.3 394.4h0M602.2 391.7h0M606.1 393.5h0M608.5 394.5h0M610.8 392.7h0M612.8 393.3h0M618.2 394.4h0M618.9 394.8h0M621.1 395.1h0M627.0 394.4h0M626.2 394.0h0M595.5 397.0h0M599.4 396.6h0M605.1 393.2h0M605.6 393.4h0M608.2 397.1h0M611.4 398.9h0M614.5 394.5h0M617.1 398.5h0M622.7 396.7h0M622.9 396.5h0M626.6 394.9h0M598.3 396.7h0M603.4 398.7h0M604.2 398.6h0M609.2 400.3h0M610.5 398.0h0M617.5 397.4h0M618.1 400.7h0M622.4 399.1h0M626.8 398.3h0M627.3 400.8h0M596.4 399.1h0M597.9 402.7h0M601.8 400.9h0M603.8 401.6h0M605.9 400.5h0M608.6 400.5h0M612.5 401.1h0M615.4 397.9h0M616.7 399.5h0M621.7 399.2h0M623.8 401.7h0M626.0 398.7h0M627.8 400.6h0M636.9 404.7h0M595.9 401.7h0M599.7 407.8h0M603.2 403.1h0M603.9 403.3h0M608.3 403.0h0M610.5 401.6h0M613.3 402.1h0M618.5 404.0h0M618.5 403.5h0M624.3 405.2h0M626.2 404.4h0M630.4 403.0h0M632.3 405.9h0M636.2 405.1h0M637.7 404.7h0M593.6 404.1h0M600.6 406.8h0M603.7 408.0h0M606.5 407.6h0M610.4 408.9h0M611.8 405.3h0M614.9 405.2h0M621.6 407.8h0M623.3 406.5h0M624.8 405.3h0M632.0 406.0h0M634.7 408.6h0M637.4 404.4h0M639.0 404.5h0M597.5 409.7h0M602.0 409.1h0M605.2 408.4h0M606.3 410.4h0M611.0 408.4h0M614.9 411.4h0M617.8 410.0h0M617.5 409.8h0M622.8 408.8h0M627.8 408.2h0M629.2 409.9h0M631.3 408.7h0M632.0 407.8h0M636.9 409.8h0M639.0 409.2h0M644.2 409.9h0M601.1 413.5h0M604.4 410.4h0M608.2 413.2h0M608.8 412.8h0M610.7 413.3h0M614.0 411.9h0M621.2 410.3h0M619.8 413.3h0M622.7 412.4h0M625.7 413.2h0M632.8 412.9h0M633.1 411.4h0M636.6 414.2h0M635.9 411.5h0M640.5 412.5h0M644.8 410.5h0M600.5 412.9h0M604.1 415.0h0M608.8 413.3h0M609.7 413.9h0M617.5 414.5h0M619.0 414.2h0M622.5 415.5h0M627.0 417.2h0M629.4 412.8h0M633.6 413.9h0M634.6 415.1h0M636.7 413.5h0M642.9 413.7h0M643.9 413.4h0M646.6 413.6h0M629.3 415.7h0M630.7 416.5h0M633.1 418.2h0M634.5 416.7h0M642.3 419.4h0M646.1 415.6h0M645.8 419.0h0M646.6 419.0h0M653.4 417.7h0M637.6 421.3h0M641.7 419.9h0M646.8 421.0h0M646.4 419.1h0M647.5 420.1h0M653.1 420.0h0M637.3 421.2h0M637.6 421.8h0M645.5 420.1h0M645.1 420.6h0M640.6 422.1h0M642.2 423.6h0M648.0 422.3h0M652.6 423.2h0M653.1 422.7h0M605.6 416.9h0M613.6 415.8h0M603.6 418.8h0M606.6 415.8h0M609.5 418.6h0M615.8 419.1h0M617.6 418.5h0M625.0 415.9h0M629.6 417.8h0M602.2 418.2h0M609.8 420.0h0M609.6 417.3h0M618.7 420.3h0M621.6 420.8h0M623.9 419.0h0M630.7 421.3h0M631.4 420.4h0M609.5 422.6h0M614.8 422.7h0M616.4 422.7h0M624.0 424.8h0M623.1 421.4h0M634.4 423.0h0M608.6 424.4h0M613.5 426.5h0M614.7 427.4h0M620.2 426.1h0M624.2 426.8h0M624.7 425.5h0M627.1 425.6h0M612.2 425.4h0M616.0 430.7h0M613.7 431.1h0M623.3 430.8h0M625.9 427.5h0M625.5 428.1h0M631.8 426.2h0M632.1 427.3h0M616.2 429.4h0M620.1 433.2h0M622.7 432.3h0M625.0 429.2h0M630.9 429.0h0M616.1 437.2h0M625.7 434.3h0M597.4 421.6h0M597.1 422.3h0M597.4 422.8h0M600.7 424.9h0M606.3 427.1h0M593.8 431.4h0M598.7 426.7h0M597.6 429.8h0M599.6 433.1h0M599.8 428.9h0M607.9 436.9h0M595.7 434.6h0M601.5 433.7h0M604.0 431.9h0M607.9 433.2h0M607.8 435.2h0M596.9 435.9h0M598.7 436.4h0M600.1 436.3h0M633.1 439.6h0M578.8 440.8h0M590.4 441.7h0M594.9 443.7h0M600.0 441.2h0M604.0 441.1h0M610.0 440.9h0M608.4 443.4h0M632.7 443.4h0M635.4 442.5h0M640.8 444.0h0M582.1 444.2h0M583.5 442.8h0M590.5 443.4h0M597.9 443.2h0M603.7 445.1h0M609.5 445.7h0M611.5 444.5h0M614.3 442.8h0M620.3 445.2h0M621.7 446.7h0M627.2 442.8h0M627.8 445.3h0M631.5 443.1h0M637.5 442.1h0M642.0 447.8h0M585.4 446.8h0M588.6 447.2h0M592.0 447.4h0M597.1 445.4h0M600.4 444.4h0M602.1 449.6h0M604.9 447.3h0M609.9 449.1h0M614.0 447.2h0M616.6 445.8h0M621.7 446.1h0M624.0 446.2h0M627.2 446.4h0M631.9 444.8h0M634.9 449.2h0M636.2 445.6h0M638.9 445.4h0M641.0 447.6h0M591.4 450.2h0M595.4 448.9h0M599.1 452.9h0M607.8 447.4h0M616.4 448.0h0M617.3 448.8h0M619.0 447.9h0M623.3 452.4h0M625.7 447.5h0M629.1 450.3h0M631.6 451.0h0M640.8 450.1h0M592.6 452.5h0M594.3 453.6h0M598.7 450.9h0M605.0 447.9h0M607.5 451.7h0M609.4 452.8h0M615.2 453.2h0M619.2 454.1h0M624.6 454.3h0M626.1 454.0h0M629.9 451.5h0M590.3 455.6h0M595.4 453.9h0M598.5 455.3h0M602.0 456.4h0M603.8 454.5h0M604.4 455.2h0M611.1 457.8h0M621.1 454.6h0M622.0 456.3h0M627.7 455.2h0M587.7 459.9h0M589.7 460.0h0M590.8 459.0h0M594.0 456.8h0M601.3 458.1h0M603.0 458.0h0M609.3 456.2h0M609.3 455.3h0M612.0 457.1h0M615.1 458.2h0M618.3 457.5h0M621.9 457.3h0M627.5 459.1h0M628.1 458.5h0M586.2 461.1h0M588.9 459.5h0M589.9 464.3h0M592.6 459.0h0M599.2 460.0h0M603.2 460.6h0M605.3 459.8h0M607.5 460.9h0M614.2 462.9h0M618.8 458.6h0M620.6 461.1h0M624.6 460.8h0M629.4 461.3h0M630.2 461.3h0M580.1 468.0h0M585.5 465.0h0M591.4 463.5h0M591.5 463.6h0M596.3 463.9h0M599.8 462.5h0M604.8 463.9h0M605.7 465.2h0M622.2 465.8h0M622.0 462.4h0M581.6 468.4h0M584.6 466.9h0M589.4 466.9h0M589.8 468.7h0M597.5 463.9h0M600.6 467.5h0M602.2 468.7h0M608.0 464.5h0M611.1 463.9h0M618.3 466.2h0M621.6 467.0h0M624.2 464.0h0M626.8 464.4h0M583.2 469.2h0M586.3 471.7h0M589.7 468.4h0M594.5 469.1h0M596.8 471.3h0M597.8 470.7h0M622.6 467.6h0M577.3 470.1h0M586.0 473.9h0M588.3 468.8h0M589.5 471.1h0M597.0 471.8h0M599.9 469.8h0M597.6 470.8h0M584.0 474.3h0M586.8 476.8h0M588.8 471.9h0M640.0 428.3h0M656.7 425.0h0M657.5 431.7h0M651.7 435.8h0M645.8 436.3h0M650.0 441.7h0M652.5 442.0h0M663.3 432.0h0M666.7 433.3h0M670.8 431.3h0M660.0 444.2h0M658.3 449.2h0M647.5 451.7h0M650.0 453.3h0M648.3 456.7h0M645.0 460.0h0M640.8 461.7h0M638.3 462.5h0M634.2 466.7h0M645.8 466.2h0M652.5 465.0h0M655.0 461.7h0M657.5 455.0h0M660.0 457.5h0M663.3 460.0h0M662.5 464.2h0M668.3 457.5h0M669.2 462.5h0M673.3 456.7h0M675.0 460.0h0M678.3 454.2h0M680.0 460.0h0M674.2 447.5h0M676.7 438.3h0M679.2 433.3h0M680.8 425.8h0M682.5 433.3h0M683.3 440.0h0M681.7 446.7h0M685.0 452.5h0M687.5 447.5h0M688.3 458.3h0M685.8 461.7h0M683.3 443.3h0M678.3 443.3h0M600.0 380.8h0M602.0 380.3h0M689.8 422.7h0M692.7 419.2h0M694.8 420.9h0M698.9 422.5h0M704.4 420.4h0M692.0 426.6h0M697.4 423.6h0M697.4 421.8h0M701.7 424.1h0M701.7 421.8h0M708.2 426.4h0M697.1 427.1h0M696.3 423.1h0M702.8 425.0h0M702.6 425.9h0M706.6 425.4h0M708.7 425.3h0M690.4 427.8h0M695.6 427.1h0M695.8 429.4h0M698.8 429.7h0M701.5 427.5h0M702.1 429.2h0M708.8 426.0h0M709.9 428.3h0M718.5 430.9h0M693.2 430.3h0M697.4 429.6h0M701.3 430.6h0M700.0 431.4h0M706.0 431.5h0M711.2 429.8h0M725.7 434.0h0M696.5 431.7h0M697.2 434.8h0M699.2 434.7h0M702.3 436.3h0M706.6 434.5h0M714.4 434.6h0M716.1 434.3h0M721.9 433.9h0M721.8 433.1h0M689.8 436.2h0M693.3 435.7h0M694.2 436.6h0M699.2 436.0h0M700.6 439.1h0M704.8 435.1h0M705.9 435.9h0M708.7 439.5h0M711.4 437.4h0M716.4 436.5h0M720.4 437.5h0M726.4 435.6h0M693.3 438.7h0M693.6 439.2h0M694.4 439.7h0M698.4 440.4h0M703.6 440.4h0M705.4 436.8h0M707.8 437.6h0M712.6 439.1h0M714.0 440.4h0M717.7 441.9h0M719.2 435.5h0M724.4 438.3h0M729.3 441.3h0M726.0 438.6h0M693.6 442.1h0M694.5 441.4h0M695.4 443.7h0M701.4 441.4h0M705.2 439.5h0M707.0 441.9h0M711.0 439.8h0M712.2 440.2h0M715.4 444.1h0M718.0 441.0h0M722.1 442.0h0M724.2 439.7h0M726.5 442.5h0M697.3 444.8h0M700.5 445.9h0M701.3 443.4h0M706.5 446.2h0M708.9 444.7h0M711.1 447.8h0M714.7 443.6h0M721.6 445.1h0M726.0 444.9h0M726.3 446.6h0M730.2 443.3h0M731.0 442.5h0M692.4 447.1h0M696.6 446.6h0M696.0 446.3h0M699.4 446.1h0M704.2 445.6h0M709.5 448.1h0M706.7 447.3h0M711.8 447.5h0M715.5 444.9h0M720.3 445.8h0M722.4 447.8h0M722.8 446.8h0M732.7 446.2h0M733.5 444.5h0M735.6 445.4h0M694.4 449.6h0M695.6 449.2h0M699.4 448.4h0M700.0 451.7h0M705.0 449.0h0M705.7 451.6h0M712.6 450.7h0M716.0 449.5h0M717.7 448.8h0M723.3 450.0h0M726.7 447.3h0M727.8 447.6h0M732.3 449.2h0M737.4 449.7h0M693.9 451.9h0M700.5 453.6h0M703.6 451.2h0M703.8 451.5h0M711.9 452.4h0M714.5 452.8h0M717.9 452.4h0M717.7 450.9h0M723.5 452.6h0M723.7 455.2h0M728.0 450.6h0M733.9 449.5h0M733.6 454.0h0M738.0 450.4h0M696.9 454.1h0M698.8 455.4h0M700.5 455.5h0M704.0 454.4h0M709.4 456.9h0M711.7 452.2h0M718.4 455.5h0M719.0 456.8h0M723.5 455.0h0M726.2 455.3h0M731.1 453.9h0M733.8 455.6h0M737.0 455.6h0M692.4 456.3h0M700.8 457.9h0M705.3 455.4h0M704.7 457.0h0M706.8 456.6h0M712.4 459.6h0M714.5 457.6h0M718.4 454.0h0M722.7 458.0h0M725.2 456.5h0M729.8 456.0h0M733.5 456.8h0M737.6 458.6h0M736.4 457.7h0M738.7 458.7h0M691.8 458.7h0M696.1 461.0h0M697.9 462.7h0M701.9 460.9h0M705.7 460.3h0M706.6 461.7h0M713.8 459.6h0M712.4 460.4h0M715.3 458.1h0M718.9 460.8h0M725.7 460.3h0M727.9 461.1h0M728.1 458.7h0M735.5 458.5h0M738.1 459.4h0M695.1 464.4h0M695.1 461.3h0M702.6 466.0h0M704.3 464.8h0M706.2 463.7h0M712.6 460.3h0M712.0 460.7h0M716.3 463.2h0M718.1 462.7h0M722.2 464.8h0M726.1 462.5h0M728.0 464.1h0M731.7 462.5h0M736.4 463.4h0M738.0 463.0h0M698.1 467.5h0M701.5 463.4h0M703.6 466.3h0M711.8 459.9h0M712.8 463.9h0M712.0 466.7h0M717.2 465.8h0M720.8 466.5h0M723.3 468.4h0M727.1 465.4h0M729.7 465.4h0M735.5 464.7h0M736.5 464.3h0M739.5 465.0h0M700.5 466.6h0M703.5 464.6h0M704.2 471.3h0M709.2 467.9h0M713.6 468.5h0M714.4 470.2h0M717.9 469.7h0M724.6 465.0h0M724.0 469.5h0M727.8 469.3h0M730.3 470.7h0M735.7 468.8h0M737.4 464.5h0M701.1 471.2h0M705.6 470.3h0M707.4 471.6h0M711.0 474.8h0M712.6 472.0h0M715.9 469.8h0M718.4 475.5h0M721.5 470.7h0M727.8 473.6h0M727.0 470.7h0M731.2 471.1h0M736.2 469.9h0M709.0 474.8h0M713.6 476.4h0M713.9 473.7h0M717.5 473.5h0M723.9 474.9h0M724.2 472.0h0M727.0 474.5h0M729.2 474.1h0M737.4 473.2h0M704.1 471.6h0M708.6 473.8h0M710.0 476.7h0M714.5 476.4h0M720.4 475.1h0M720.2 478.2h0M723.8 478.4h0M727.6 477.8h0M710.2 477.3h0M718.2 475.8h0M573.9 489.1h0M573.2 489.6h0M576.8 485.8h0M568.6 491.8h0M573.1 490.7h0M577.9 489.4h0M566.7 492.9h0M568.1 492.6h0M571.1 493.5h0M574.2 491.9h0M577.4 493.2h0M562.3 496.0h0M564.2 495.4h0M567.7 494.4h0M568.8 497.3h0M572.6 496.4h0M577.0 495.4h0M580.6 494.1h0M580.9 497.7h0M561.4 498.0h0M562.7 496.5h0M567.4 497.0h0M568.2 497.0h0M572.9 497.8h0M576.8 498.9h0M576.8 496.4h0M563.5 500.4h0M568.8 501.4h0M572.0 501.7h0M573.9 502.2h0M575.8 499.4h0M578.3 501.8h0M565.2 503.3h0M565.6 502.7h0M568.3 502.0h0M571.1 503.1h0M576.2 502.9h0M557.5 494.2h0M562.5 487.5h0M567.5 483.7h0M572.5 481.7h0M552.5 483.7h0M562.5 476.2h0M556.7 504.5h0M550.0 507.5h0M559.2 439.7h0M557.5 449.7h0M565.5 450.5h0M571.7 469.5h0M565.0 515.0h0M565.4 514.4h0M561.7 519.7h0M561.9 520.0h0M564.2 521.7h0M565.6 522.4h0M566.7 522.0h0M567.2 522.0h0M573.3 528.3h0M573.3 528.7h0M576.7 525.8h0M577.0 526.0h0M579.7 529.2h0M580.0 527.4h0M582.5 532.5h0M581.5 533.9h0M585.0 535.0h0M584.8 535.5h0M593.3 540.8h0M593.4 540.1h0M596.7 543.3h0M596.3 543.5h0M600.0 545.0h0M601.4 544.1h0M603.3 547.5h0M603.2 547.1h0M606.7 551.7h0M606.5 550.1h0M594.7 548.3h0M594.4 548.4h0M593.7 543.3h0M593.8 542.9h0M737.0 501.7h0M748.3 524.2h0M732.5 535.3h0M740.8 536.7h0M734.7 545.8h0M739.7 554.7h0M750.0 545.0h0M661.2 455.6h0M670.0 455.3h0M681.0 454.7h0M646.6 456.6h0M655.0 455.1h0M674.3 458.0h0M687.8 456.7h0M643.4 457.9h0M655.8 460.6h0M653.6 461.4h0M662.2 460.7h0M664.6 458.4h0M667.7 462.4h0M681.1 458.8h0M679.6 460.9h0M643.8 459.6h0M650.3 462.8h0M655.9 461.1h0M673.9 462.0h0M671.8 458.0h0M684.3 461.0h0M647.7 464.7h0M659.8 463.1h0M583.8 467.4h0M584.0 466.9h0M592.9 468.7h0M597.5 468.5h0M574.9 469.3h0M576.7 470.8h0M581.0 471.9h0M587.2 468.1h0M587.6 466.7h0M590.4 468.3h0M594.4 471.6h0M597.1 469.4h0M584.1 471.3h0M578.4 474.0h0M586.3 471.7h0M590.1 470.5h0M595.7 474.7h0M598.4 470.7h0M580.2 474.6h0M584.7 473.8h0M594.7 475.4h0M590.6 477.6h0M439.1 530.9h0M445.6 529.8h0M437.2 533.5h0M444.5 534.1h0M442.7 533.0h0M434.9 537.7h0M442.9 536.6h0M431.1 539.4h0M439.8 539.7h0M440.5 538.1h0M515.9 541.1h0M516.2 538.8h0M521.6 540.3h0M436.2 541.2h0M436.1 540.4h0M513.7 542.4h0M519.4 541.5h0M517.4 540.4h0M523.2 543.6h0M428.3 544.6h0M432.2 543.5h0M434.4 541.6h0M438.8 546.1h0M505.8 545.9h0M511.0 544.2h0M511.1 546.6h0M520.4 544.4h0M521.0 541.9h0M528.4 545.1h0M529.3 545.4h0M425.8 550.1h0M434.9 550.2h0M434.2 549.7h0M438.1 547.1h0M506.3 548.1h0M508.5 545.4h0M513.6 546.0h0M514.2 545.5h0M517.8 546.3h0M523.0 545.4h0M529.3 547.1h0M424.5 550.1h0M426.4 549.5h0M434.9 548.7h0M500.7 551.4h0M504.9 553.4h0M508.0 550.8h0M513.7 549.3h0M516.6 548.3h0M521.5 548.5h0M522.2 548.5h0M424.5 555.0h0M428.4 552.7h0M497.2 553.3h0M499.6 552.6h0M505.7 552.9h0M507.4 555.6h0M510.2 553.8h0M513.7 554.9h0M518.4 552.9h0M517.1 555.7h0M523.4 550.8h0M524.5 552.8h0M530.6 553.8h0M427.3 553.5h0M431.1 558.8h0M433.8 557.1h0M443.1 557.3h0M487.4 556.0h0M496.7 555.7h0M499.3 557.7h0M502.2 554.8h0M508.4 556.0h0M516.0 555.6h0M522.1 555.3h0M526.9 555.5h0M527.6 557.2h0M428.2 560.7h0M430.4 561.9h0M432.9 560.8h0M437.4 561.4h0M438.2 557.8h0M466.0 560.6h0M476.2 559.6h0M480.9 559.7h0M482.7 557.8h0M486.4 557.9h0M486.8 557.8h0M492.5 560.3h0M499.7 559.7h0M506.6 558.5h0M504.9 561.0h0M510.5 560.5h0M511.5 561.2h0M515.2 560.0h0M520.7 557.2h0M524.1 559.9h0M526.5 558.2h0M434.9 563.3h0M436.9 561.8h0M440.5 559.9h0M451.1 560.7h0M457.5 560.6h0M457.3 561.4h0M464.0 560.6h0M471.2 562.9h0M471.9 560.9h0M474.7 563.0h0M478.6 561.9h0M484.1 563.4h0M491.8 563.3h0M499.0 564.6h0M501.1 558.8h0M504.7 562.5h0M506.1 562.0h0M513.2 563.4h0M516.8 559.9h0M520.6 562.6h0M524.3 561.3h0M442.4 565.2h0M450.9 563.3h0M455.3 565.0h0M454.4 567.3h0M458.3 562.1h0M464.3 564.2h0M464.2 565.3h0M470.7 567.6h0M473.7 563.2h0M474.2 562.5h0M479.5 567.1h0M481.5 565.1h0M490.6 565.1h0M489.1 565.2h0M495.8 564.6h0M501.2 561.6h0M505.2 561.0h0M508.1 565.4h0M511.0 563.0h0M513.8 560.9h0M519.6 566.9h0M525.8 562.2h0M431.4 570.5h0M439.9 567.3h0M442.5 570.7h0M450.4 566.9h0M464.9 569.2h0M471.7 567.5h0M474.2 569.3h0M482.7 565.7h0M486.7 566.7h0M493.2 566.2h0M494.0 564.9h0M497.8 569.6h0M505.0 569.3h0M509.0 566.4h0M517.2 565.8h0M517.8 569.1h0M525.2 565.3h0M435.3 571.1h0M436.3 569.2h0M441.1 570.4h0M449.1 570.4h0M454.4 569.9h0M457.4 570.5h0M460.5 572.5h0M463.6 569.0h0M464.9 570.1h0M469.8 567.8h0M473.3 567.8h0M474.0 565.9h0M480.6 571.3h0M484.3 571.2h0M483.7 569.9h0M487.3 568.2h0M493.3 569.5h0M498.2 569.2h0M501.2 570.3h0M506.6 571.2h0M507.0 569.3h0M510.7 569.9h0M520.5 566.4h0M437.5 573.3h0M443.8 573.8h0M446.3 572.1h0M447.9 576.0h0M451.9 572.7h0M455.2 573.5h0M457.4 573.3h0M460.1 570.9h0M465.1 574.5h0M474.8 573.5h0M477.3 573.5h0M479.9 574.3h0M484.1 571.1h0M492.4 574.4h0M493.6 574.0h0M499.7 574.1h0M499.5 572.8h0M508.5 571.9h0M508.4 570.3h0M514.1 571.1h0M516.5 571.3h0M433.2 576.1h0M434.6 576.7h0M448.5 577.6h0M454.3 571.4h0M459.4 575.3h0M471.5 576.6h0M478.7 576.8h0M486.4 575.8h0M486.6 574.7h0M491.2 575.4h0M493.8 574.9h0M495.1 578.8h0M502.8 576.8h0M505.7 575.8h0M508.1 574.2h0M512.9 574.8h0M513.7 577.3h0M518.9 577.9h0M439.9 579.2h0M440.9 578.4h0M448.4 577.2h0M452.0 576.0h0M463.5 578.3h0M463.5 577.2h0M467.5 579.1h0M473.7 576.3h0M473.0 579.0h0M476.7 576.3h0M481.7 578.3h0M484.6 582.4h0M487.5 579.7h0M492.1 576.0h0M496.1 583.4h0M501.9 577.6h0M501.9 578.7h0M507.7 580.0h0M514.2 580.7h0M448.7 580.6h0M449.5 582.2h0M453.1 580.2h0M461.3 580.3h0M461.9 581.7h0M469.1 583.3h0M472.1 583.4h0M474.3 581.6h0M478.9 584.2h0M481.0 578.8h0M483.8 583.9h0M490.0 581.8h0M494.3 583.0h0M502.3 581.4h0M514.4 581.4h0M436.9 584.5h0M443.3 585.4h0M448.1 585.3h0M452.5 586.7h0M453.3 582.4h0M459.2 587.0h0M462.0 583.7h0M461.2 582.2h0M466.6 586.1h0M471.0 586.0h0M477.3 582.2h0M483.2 584.3h0M483.6 584.4h0M489.2 585.2h0M489.9 585.2h0M495.8 584.8h0M494.5 585.2h0M501.4 582.9h0M505.2 583.3h0M507.8 581.5h0M511.0 583.8h0M442.4 585.6h0M443.2 588.5h0M449.8 588.7h0M462.9 587.5h0M466.5 587.2h0M470.9 585.7h0M472.3 586.7h0M478.3 586.9h0M479.5 589.2h0M482.2 587.3h0M485.3 584.5h0M495.6 586.0h0M500.5 586.7h0M507.0 586.3h0M439.3 589.1h0M446.1 588.1h0M450.3 592.8h0M453.2 588.3h0M452.9 590.8h0M460.6 589.8h0M468.4 586.9h0M469.9 593.0h0M474.9 591.4h0M481.0 592.8h0M482.8 591.1h0M486.7 590.9h0M490.7 590.1h0M498.3 588.0h0M446.0 591.9h0M451.4 594.3h0M452.4 593.4h0M457.7 594.3h0M456.5 593.1h0M468.5 593.6h0M477.8 592.8h0M479.9 593.9h0M483.0 594.7h0M452.7 596.8h0M455.0 594.2h0M458.1 596.1h0M461.9 597.6h0M464.7 595.3h0M467.4 598.1h0M470.3 597.7h0M474.7 594.7h0M478.3 596.7h0M482.8 593.8h0M446.9 595.3h0M463.4 597.4h0M467.7 598.0h0M450.3 535.5h0M459.7 538.0h0M461.7 539.2h0M464.7 533.0h0M470.3 536.3h0M450.3 552.0h0M460.8 552.5h0M477.0 550.5h0M435.8 554.2h0M442.5 555.3h0M438.7 551.7h0M511.7 525.0h0M515.8 523.3h0M513.3 530.0h0M518.3 528.3h0M520.8 527.5h0M522.5 531.7h0M525.0 534.2h0M516.7 537.5h0M515.0 530.0h0M466.7 600.3h0M445.3 528.0h0M718.5 576.2h0M716.7 579.7h0M719.3 579.7h0M720.3 578.6h0M794.0 580.0h0M797.6 579.6h0M799.7 580.4h0M715.6 579.1h0M719.8 580.6h0M723.6 581.7h0M723.9 582.6h0M784.2 580.1h0M783.7 580.2h0M786.5 580.4h0M792.3 578.6h0M793.5 580.5h0M796.7 580.8h0M798.7 580.6h0M722.0 584.4h0M722.9 582.0h0M723.9 584.8h0M727.4 584.4h0M780.4 585.8h0M784.9 582.9h0M786.7 583.7h0M787.1 582.6h0M792.0 583.3h0M796.5 582.8h0M796.8 583.3h0M724.5 585.3h0M727.6 586.3h0M733.4 587.1h0M766.8 585.2h0M768.9 586.7h0M772.3 587.0h0M776.0 585.6h0M779.5 587.0h0M784.6 585.1h0M788.4 584.0h0M791.4 584.8h0M794.6 587.0h0M795.7 585.7h0M724.7 586.5h0M729.4 588.6h0M732.5 589.8h0M765.1 590.3h0M768.7 589.1h0M772.7 587.8h0M774.2 589.3h0M776.3 588.0h0M779.5 589.2h0M780.6 588.9h0M785.4 590.0h0M790.4 589.2h0M791.9 588.0h0M796.1 588.0h0M796.0 588.3h0M731.5 590.6h0M731.9 590.1h0M735.8 589.6h0M736.7 589.8h0M741.2 592.0h0M761.5 591.2h0M766.0 591.1h0M767.5 590.3h0M770.8 592.0h0M775.5 592.3h0M775.7 591.4h0M777.0 590.1h0M780.6 591.6h0M786.8 590.6h0M787.1 590.9h0M790.7 589.6h0M793.0 590.9h0M796.4 592.3h0M729.0 592.3h0M734.9 592.7h0M737.3 593.7h0M740.8 593.0h0M742.9 593.8h0M746.0 593.4h0M748.5 593.9h0M750.4 594.0h0M755.6 594.9h0M761.0 592.3h0M763.6 592.9h0M764.8 593.2h0M770.1 592.9h0M772.2 594.0h0M778.7 594.6h0M778.1 594.7h0M780.7 593.6h0M784.0 592.4h0M784.9 591.0h0M789.1 593.2h0M792.6 592.1h0M795.3 592.9h0M798.1 593.6h0M732.5 594.2h0M736.6 594.6h0M740.5 596.5h0M742.8 595.1h0M745.4 595.7h0M748.9 597.5h0M755.3 597.8h0M757.9 594.3h0M759.2 595.4h0M761.7 596.8h0M766.3 595.2h0M767.6 595.7h0M769.6 596.5h0M772.4 597.0h0M776.8 596.4h0M778.0 597.7h0M780.4 596.6h0M782.0 594.3h0M787.2 594.0h0M791.9 595.6h0M792.1 596.4h0M734.1 598.6h0M739.0 597.9h0M738.6 597.6h0M742.7 598.0h0M746.4 598.0h0M749.5 598.7h0M750.9 597.1h0M759.2 597.3h0M756.4 598.4h0M763.2 596.3h0M761.8 600.8h0M766.1 597.0h0M769.7 596.8h0M772.7 598.3h0M774.0 597.7h0M778.5 597.8h0M780.8 598.8h0M782.2 597.9h0M787.3 601.1h0M788.7 598.8h0M793.1 598.1h0M793.6 598.5h0M739.4 601.2h0M740.4 600.0h0M743.8 599.6h0M747.9 602.5h0M751.4 598.8h0M752.3 602.7h0M755.1 600.8h0M758.4 600.6h0M761.2 600.1h0M765.8 600.2h0M768.6 601.2h0M770.2 599.9h0M772.5 601.1h0M777.5 603.3h0M778.8 597.2h0M782.9 598.1h0M786.9 601.3h0M787.3 602.8h0M742.8 601.5h0M747.8 603.5h0M750.7 603.4h0M753.1 601.5h0M754.2 604.6h0M759.5 602.2h0M759.4 605.7h0M763.2 606.3h0M766.1 604.4h0M770.1 602.5h0M771.2 606.2h0M774.4 605.3h0M776.5 603.7h0M779.3 602.9h0M783.4 601.4h0M786.6 602.3h0M750.8 605.0h0M751.4 605.9h0M753.9 605.8h0M757.8 605.5h0M761.4 605.0h0M763.7 605.9h0M767.8 606.1h0M770.0 606.1h0M773.1 603.6h0M776.6 605.8h0M778.8 605.2h0M747.5 589.7h0M754.7 588.3h0M796.7 562.5h0M801.3 564.7h0M799.7 567.5h0M797.5 571.3h0M713.7 577.0h0M718.7 578.0h0M752.5 531.4h0M751.7 533.0h0M755.8 534.9h0M752.3 535.5h0M753.2 533.8h0M757.7 534.7h0M756.8 535.0h0M753.0 537.0h0M755.6 537.5h0M758.8 539.1h0M754.4 536.9h0M756.4 541.4h0M759.3 542.4h0M763.4 541.3h0M757.3 543.8h0M761.5 542.8h0M762.6 541.3h0M766.5 543.6h0M757.8 546.5h0M761.6 544.9h0M760.3 544.3h0M764.9 544.9h0M761.6 547.1h0M763.6 547.8h0M766.3 547.6h0M762.2 548.8h0M764.9 547.2h0M761.2 551.1h0M763.1 553.5h0M737.0 501.7h0M748.8 524.2h0M732.5 535.3h0M741.2 537.0h0M734.5 545.8h0M739.5 554.7h0M750.8 545.0h0M753.3 550.8h0M752.2 558.8h0M760.8 557.5h0M768.3 557.0h0M770.8 557.0h0M758.3 562.5h0M760.3 566.3h0M766.7 563.0h0M773.3 565.8h0M762.2 571.7h0M751.7 543.3h0M753.7 530.8h0M207.2 503.3h0M209.9 499.3h0M212.7 503.0h0M189.8 502.0h0M191.4 503.3h0M203.1 499.9h0M207.9 501.6h0M208.6 499.7h0M215.8 502.2h0M185.8 504.7h0M186.7 505.7h0M193.9 506.0h0M197.4 503.7h0M198.8 503.8h0M199.9 503.6h0M203.4 504.5h0M211.1 503.6h0M215.5 506.8h0M212.6 504.6h0M216.6 502.9h0M222.5 506.9h0M183.4 508.8h0M185.8 507.4h0M193.3 507.5h0M195.7 508.0h0M201.9 506.6h0M201.0 506.2h0M209.0 505.6h0M211.4 507.7h0M214.0 509.1h0M216.3 504.8h0M218.8 509.6h0M222.7 506.7h0M179.6 511.4h0M182.6 507.0h0M185.6 510.3h0M190.6 512.2h0M193.0 509.2h0M195.7 512.6h0M198.8 508.5h0M204.4 507.6h0M208.9 509.4h0M210.8 507.2h0M216.9 509.9h0M219.1 511.5h0M224.6 512.3h0M225.2 509.4h0M181.1 513.4h0M184.4 510.3h0M186.3 515.0h0M190.6 511.1h0M194.3 512.4h0M193.9 512.6h0M201.0 512.3h0M203.5 514.2h0M208.3 515.4h0M212.1 512.6h0M214.9 512.2h0M214.8 514.0h0M216.8 512.1h0M223.4 513.1h0M226.4 514.7h0M229.2 514.5h0M169.7 520.3h0M176.6 515.7h0M180.7 518.1h0M181.5 514.7h0M186.0 515.5h0M189.8 519.4h0M192.9 513.5h0M195.5 517.1h0M197.9 514.7h0M201.7 515.6h0M204.9 513.2h0M208.9 515.9h0M212.7 516.1h0M213.5 516.5h0M217.3 515.7h0M220.9 516.5h0M224.2 515.2h0M224.9 513.4h0M162.0 519.3h0M167.4 521.7h0M172.2 518.7h0M173.1 519.7h0M179.9 520.4h0M180.0 517.7h0M184.1 519.3h0M184.4 517.0h0M193.2 522.8h0M194.4 521.7h0M200.5 516.0h0M204.6 519.8h0M207.6 518.6h0M212.1 519.6h0M210.8 520.5h0M216.8 517.6h0M219.7 519.0h0M220.5 517.6h0M161.9 519.1h0M162.5 521.8h0M165.7 519.9h0M172.6 520.2h0M178.4 519.7h0M179.7 523.2h0M182.6 521.4h0M187.3 520.6h0M190.1 520.8h0M191.5 520.3h0M195.7 518.5h0M198.7 521.1h0M203.3 522.4h0M210.2 521.6h0M210.5 520.9h0M216.6 521.7h0M214.4 521.4h0M220.8 523.8h0M165.5 522.9h0M167.1 523.6h0M173.6 522.0h0M174.4 524.0h0M178.7 525.0h0M183.0 524.6h0M192.2 527.8h0M194.7 525.0h0M201.4 524.6h0M204.2 525.8h0M204.8 524.5h0M207.2 521.4h0M214.8 523.4h0M215.0 525.3h0M221.3 524.0h0M163.0 527.0h0M164.6 527.2h0M169.4 527.6h0M173.7 528.4h0M176.6 526.0h0M179.5 527.3h0M185.7 524.6h0M189.2 526.0h0M187.6 524.7h0M197.1 527.4h0M203.3 527.9h0M202.5 525.2h0M202.8 526.4h0M211.6 525.4h0M215.7 524.6h0M221.5 526.7h0M159.8 529.0h0M164.1 529.0h0M165.7 529.0h0M168.1 531.2h0M172.3 531.1h0M175.5 528.2h0M178.2 531.7h0M180.8 532.2h0M184.5 530.2h0M186.5 530.6h0M194.5 531.9h0M198.5 531.1h0M204.8 528.4h0M200.8 528.6h0M205.4 532.9h0M216.4 528.3h0M220.2 528.1h0M221.7 530.4h0M155.6 533.7h0M157.3 533.6h0M161.9 533.5h0M160.7 531.4h0M166.8 531.1h0M172.7 535.1h0M172.3 530.8h0M177.2 532.5h0M178.2 532.4h0M184.6 530.3h0M184.6 534.6h0M188.7 531.6h0M190.1 535.1h0M194.8 532.3h0M199.7 533.8h0M202.4 529.8h0M206.7 532.2h0M217.7 529.6h0M153.3 535.3h0M153.3 533.7h0M156.8 535.9h0M160.3 537.4h0M164.8 533.8h0M173.4 536.4h0M172.3 536.8h0M177.2 535.5h0M184.1 534.3h0M184.4 533.3h0M188.2 535.1h0M188.2 535.7h0M193.8 536.1h0M198.1 535.6h0M202.0 533.5h0M203.1 536.9h0M206.3 536.7h0M152.4 538.4h0M156.4 536.7h0M163.4 538.3h0M162.9 539.1h0M167.6 536.5h0M169.3 540.0h0M172.3 537.9h0M174.0 537.4h0M180.2 537.3h0M184.4 539.9h0M187.0 540.2h0M189.1 539.6h0M190.0 538.1h0M197.1 536.7h0M200.2 535.8h0M205.8 535.8h0M150.7 541.0h0M151.1 542.5h0M155.0 538.5h0M159.5 542.3h0M163.3 538.2h0M164.7 539.3h0M167.3 538.8h0M173.8 543.0h0M180.2 539.6h0M177.8 541.2h0M187.8 538.9h0M191.1 542.5h0M191.1 541.2h0M201.0 539.4h0M148.2 544.7h0M148.4 544.5h0M155.6 540.9h0M157.9 543.1h0M164.4 544.6h0M167.0 543.9h0M169.7 542.3h0M169.0 546.4h0M175.1 544.2h0M181.2 546.2h0M180.9 542.3h0M187.3 543.8h0M188.5 546.0h0M193.0 544.0h0M197.5 544.5h0M197.6 544.6h0M201.7 541.6h0M150.2 545.3h0M159.4 545.6h0M155.0 548.0h0M163.9 544.3h0M165.8 543.8h0M170.5 546.9h0M170.9 548.4h0M178.3 545.4h0M181.4 545.7h0M185.0 546.6h0M190.9 545.9h0M193.8 548.0h0M197.9 546.7h0M200.2 544.0h0M150.5 548.4h0M150.4 548.0h0M154.0 550.1h0M156.1 551.2h0M160.3 548.7h0M162.5 553.2h0M169.9 549.5h0M170.5 548.2h0M173.0 550.0h0M180.5 548.4h0M178.2 547.9h0M183.5 548.5h0M183.7 550.1h0M191.6 548.3h0M189.5 547.9h0M196.1 549.6h0M197.6 546.1h0M199.6 547.5h0M153.3 554.0h0M155.1 556.6h0M157.6 553.0h0M160.9 549.8h0M165.2 551.3h0M171.8 552.3h0M173.4 549.7h0M179.7 550.7h0M182.7 551.7h0M184.1 549.0h0M187.5 550.7h0M191.0 549.5h0M193.0 552.2h0M195.1 553.8h0M151.4 555.4h0M154.9 554.8h0M155.4 551.4h0M159.1 555.5h0M163.7 551.7h0M164.2 555.2h0M171.4 555.0h0M173.4 555.5h0M179.3 550.3h0M178.3 554.5h0M182.3 552.7h0M185.2 554.0h0M187.0 554.9h0M191.5 553.9h0M196.1 556.4h0M196.5 555.6h0M155.7 558.4h0M158.9 559.1h0M162.0 560.9h0M166.7 555.1h0M166.3 559.4h0M171.5 554.9h0M174.3 561.7h0M176.9 558.4h0M183.4 557.9h0M183.7 558.6h0M187.1 560.0h0M191.3 553.4h0M194.9 557.8h0M194.9 557.5h0M199.9 556.7h0M201.7 556.7h0M157.0 559.3h0M161.5 560.0h0M164.9 559.1h0M166.4 559.0h0M168.4 557.8h0M175.4 558.8h0M175.7 559.0h0M180.5 561.2h0M183.2 558.2h0M184.1 559.7h0M188.7 563.4h0M194.8 561.5h0M198.3 557.9h0M200.8 561.1h0M160.3 563.9h0M164.2 562.5h0M168.6 561.7h0M171.4 565.4h0M178.7 561.5h0M182.6 563.9h0M183.4 563.8h0M189.7 562.6h0M191.9 563.0h0M198.0 563.0h0M196.4 561.2h0M161.8 563.9h0M173.5 565.7h0M180.2 565.4h0M183.9 567.3h0M190.1 567.1h0M193.5 564.2h0M199.6 565.5h0M198.3 566.8h0M181.8 566.0h0M183.4 567.1h0M188.9 566.8h0M193.5 568.2h0M199.4 566.4h0M200.3 568.1h0M199.6 571.1h0M205.3 534.8h0M210.0 539.9h0M210.0 540.1h0M205.0 541.4h0M212.7 546.1h0M206.7 546.8h0M207.7 549.2h0M200.0 550.7h0M204.5 549.9h0M200.4 555.9h0M206.2 554.3h0M207.2 556.7h0M203.8 559.5h0M203.5 560.4h0M203.9 563.3h0M201.4 560.7h0M205.4 565.5h0M221.7 541.3h0M222.9 538.7h0M226.8 537.8h0M215.9 539.0h0M216.0 540.0h0M221.5 540.7h0M224.7 538.3h0M227.1 540.2h0M228.6 539.9h0M215.1 545.7h0M216.8 541.5h0M219.6 541.9h0M223.7 541.0h0M223.4 542.5h0M228.1 542.2h0M232.7 542.1h0M236.4 543.3h0M216.3 546.1h0M218.9 547.3h0M220.4 546.4h0M224.2 545.1h0M226.8 547.9h0M230.6 544.8h0M232.0 548.2h0M218.1 546.8h0M222.0 547.2h0M222.3 548.1h0M225.1 549.3h0M231.2 545.3h0M237.0 549.1h0M235.3 547.9h0M221.4 548.6h0M221.8 550.5h0M230.0 550.9h0M230.3 551.1h0M232.2 550.4h0M236.8 548.5h0M216.7 534.2h0M222.5 531.3h0M208.3 546.7h0M210.0 552.5h0M209.2 559.2h0M210.8 558.3h0M236.3 558.8h0M210.8 568.3h0M216.7 570.0h0M218.0 575.3h0M225.0 580.3h0M228.0 575.3h0M231.7 572.5h0M235.0 573.7h0M239.2 569.2h0M242.0 568.7h0M245.0 572.0h0M247.5 570.8h0M249.2 574.2h0M246.3 575.8h0M256.3 544.7h0M281.7 529.2h0M241.3 510.0h0M246.7 498.7h0M249.2 506.7h0M253.3 505.0h0M257.5 490.8h0M260.0 488.3h0M263.0 487.5h0M263.8 492.0h0M171.3 569.2h0M158.7 564.7h0M964.5 375.0h0M968.8 374.5h0M972.0 376.5h0M985.0 371.2h0M905.0 426.8h0M914.2 438.5h0M924.5 546.2h0M927.5 544.2h0M917.5 560.0h0M919.5 563.0h0M915.5 565.0h0M913.2 572.5h0M911.2 575.0h0M912.5 578.8h0M913.2 585.0h0M912.0 576.2h0M920.5 623.2h0M916.5 562.0h0M914.5 568.8h0M912.0 580.5h0M913.8 582.5h0M918.0 557.5h0M1062.9 636.9h0M1060.4 636.8h0M1027.6 640.1h0M1032.8 639.0h0M1039.5 639.1h0M1058.3 641.0h0M1062.3 637.4h0M1061.0 638.8h0M1026.4 641.4h0M1032.7 640.0h0M1039.9 640.6h0M1042.8 640.8h0M1041.3 640.0h0M1047.7 638.9h0M1054.0 641.2h0M1051.7 640.1h0M1059.4 640.0h0M1058.9 641.3h0M1061.1 639.7h0M1065.0 639.4h0M1066.1 640.5h0M1020.1 642.3h0M1021.0 643.2h0M1026.9 642.1h0M1031.4 643.3h0M1032.2 642.4h0M1034.2 641.8h0M1040.1 642.1h0M1043.3 642.6h0M1045.6 642.2h0M1046.5 640.1h0M1052.3 642.8h0M1054.1 644.7h0M1056.7 645.2h0M1060.8 643.1h0M1064.9 642.7h0M1064.1 643.1h0M1011.5 646.4h0M1016.0 646.0h0M1018.5 646.2h0M1021.2 641.9h0M1023.7 644.5h0M1026.3 643.4h0M1028.9 645.0h0M1032.8 648.0h0M1036.5 644.4h0M1038.9 644.1h0M1039.8 644.5h0M1045.2 644.5h0M1048.0 646.3h0M1049.5 644.8h0M1054.1 644.5h0M1054.8 646.0h0M1060.3 644.5h0M1062.3 644.4h0M1063.6 647.8h0M1005.0 648.2h0M1013.1 649.4h0M1015.5 648.1h0M1018.4 648.0h0M1022.6 646.9h0M1025.2 649.5h0M1029.2 646.0h0M1029.8 646.3h0M1032.2 648.0h0M1034.2 647.9h0M1041.8 647.1h0M1043.2 647.7h0M1045.8 647.3h0M1050.1 648.7h0M1052.6 646.6h0M1054.9 647.9h0M1055.9 646.3h0M1058.5 645.7h0M1061.6 647.5h0M1003.7 649.6h0M1006.6 649.0h0M1009.9 649.5h0M1013.3 649.1h0M1014.0 649.9h0M1015.8 650.8h0M1019.6 651.2h0M1024.6 650.5h0M1026.8 649.5h0M1032.1 647.6h0M1032.5 648.6h0M1035.8 649.7h0M1037.7 652.0h0M1043.1 650.8h0M1043.9 649.9h0M1049.0 649.8h0M1051.8 651.1h0M1050.8 650.6h0M1055.5 649.7h0M1059.6 649.8h0M1063.5 650.0h0M1063.2 648.5h0M1069.8 650.5h0M1072.6 651.3h0M1072.8 651.2h0M999.1 652.9h0M1001.8 651.4h0M1003.2 652.8h0M1007.3 652.8h0M1012.0 650.7h0M1012.3 649.4h0M1014.9 653.9h0M1016.7 652.2h0M1023.2 653.1h0M1024.0 651.3h0M1029.1 651.5h0M1034.0 653.7h0M1033.4 651.4h0M1036.8 653.7h0M1038.7 653.0h0M1042.6 651.9h0M1045.5 656.0h0M1047.5 653.6h0M1050.9 652.2h0M1054.3 652.1h0M1055.9 652.6h0M1058.8 654.4h0M1062.3 652.9h0M1066.7 653.1h0M1070.3 652.0h0M1071.4 652.7h0M1076.6 653.1h0M1079.0 651.7h0M996.4 657.1h0M1001.8 654.1h0M1005.0 653.3h0M1005.7 653.0h0M1009.1 657.3h0M1012.4 656.7h0M1013.1 655.2h0M1015.6 655.3h0M1020.2 657.9h0M1023.2 653.3h0M1025.8 656.0h0M1030.2 658.5h0M1032.6 656.1h0M1033.8 654.4h0M1036.2 656.5h0M1040.5 653.4h0M1044.4 656.6h0M1048.5 655.1h0M1049.9 656.9h0M1052.2 654.6h0M1055.2 654.0h0M1059.4 653.1h0M1060.9 654.2h0M1063.9 656.3h0M1067.1 656.7h0M1072.5 654.2h0M1073.3 655.7h0M1075.6 654.5h0M994.7 656.9h0M1000.1 656.8h0M1002.3 658.1h0M1005.2 657.5h0M1007.8 658.0h0M1012.2 656.2h0M1016.7 655.6h0M1018.3 659.6h0M1023.2 657.7h0M1027.9 659.2h0M1028.8 654.8h0M1032.4 660.0h0M1035.2 654.9h0M1038.0 655.2h0M1040.5 657.9h0M1042.2 658.4h0M1043.8 657.6h0M1050.8 657.8h0M1051.3 656.5h0M1053.7 658.8h0M1056.6 658.4h0M1059.4 660.2h0M1064.2 659.0h0M1068.3 659.6h0M1068.0 659.3h0M1074.4 658.9h0M1076.9 659.3h0M994.1 658.7h0M996.2 658.6h0M998.5 662.5h0M1003.7 661.6h0M1006.5 661.2h0M1008.3 661.3h0M1011.6 661.4h0M1014.7 658.4h0M1015.3 657.7h0M1021.9 660.1h0M1024.0 662.5h0M1026.9 661.4h0M1031.9 660.0h0M1031.8 659.0h0M1034.5 659.7h0M1039.8 659.9h0M1041.0 660.3h0M1044.7 659.2h0M1048.1 660.7h0M1050.0 661.2h0M1052.7 661.6h0M1056.5 660.5h0M1058.6 661.1h0M1060.6 661.9h0M1065.8 663.0h0M1068.3 658.7h0M1072.0 660.3h0M1074.8 661.5h0M1075.4 660.8h0M1078.7 659.6h0M991.4 662.2h0M994.6 662.1h0M998.5 664.1h0M1001.0 664.2h0M1004.2 661.4h0M1007.0 661.7h0M1009.5 662.0h0M1012.0 662.3h0M1016.3 661.7h0M1018.5 663.7h0M1021.5 663.8h0M1026.4 661.0h0M1028.4 662.7h0M1031.1 664.3h0M1033.9 664.4h0M1037.4 662.2h0M1038.8 662.9h0M1041.9 663.2h0M1043.1 661.9h0M1051.1 664.1h0M1049.3 663.5h0M1053.1 663.7h0M1056.4 665.2h0M1061.1 663.6h0M1066.0 661.9h0M1064.5 663.1h0M1068.2 664.4h0M1071.6 662.7h0M1077.4 665.9h0M1077.4 662.6h0M1081.0 663.4h0M1084.4 663.4h0M1083.2 664.1h0M987.8 666.1h0M988.0 666.0h0M990.8 666.4h0M993.9 663.9h0M997.4 664.9h0M1000.8 666.1h0M1003.8 668.4h0M1003.7 666.4h0M1006.0 664.6h0M1012.3 666.0h0M1015.4 667.3h0M1015.9 664.4h0M1020.8 667.7h0M1023.6 667.6h0M1025.3 667.7h0M1029.6 666.1h0M1034.9 665.7h0M1037.5 666.4h0M1039.0 664.4h0M1041.6 665.1h0M1044.0 666.6h0M1048.1 666.3h0M1049.2 667.0h0M1053.6 667.1h0M1058.0 667.1h0M1060.2 667.1h0M1064.2 665.3h0M1065.9 665.4h0M1073.1 664.7h0M1073.3 665.3h0M1074.8 666.7h0M1081.1 665.5h0M1084.5 665.1h0M1083.8 665.2h0M978.6 670.4h0M979.0 669.8h0M983.1 667.6h0M986.8 667.4h0M989.3 668.0h0M992.0 668.9h0M996.9 667.8h0M999.3 668.0h0M1000.5 668.6h0M1004.8 669.1h0M1006.2 665.8h0M1012.2 670.5h0M1010.8 669.6h0M1017.4 669.9h0M1019.4 669.1h0M1023.5 667.9h0M1027.6 669.7h0M1031.5 667.4h0M1034.0 669.8h0M1038.8 664.1h0M1038.8 665.7h0M1042.6 668.5h0M1046.6 668.4h0M1050.0 669.5h0M1051.0 670.4h0M1056.2 670.3h0M1057.1 669.0h0M1060.2 669.9h0M1063.9 669.0h0M1065.1 666.9h0M1070.1 667.4h0M1071.3 666.0h0M1075.3 669.2h0M1079.1 667.4h0M1083.2 665.1h0M1085.2 667.6h0M1085.3 667.8h0M974.9 674.0h0M980.7 670.3h0M981.3 672.7h0M984.9 671.7h0M987.3 669.9h0M991.5 671.2h0M996.1 668.2h0M997.3 670.0h0M999.1 672.1h0M1000.6 670.2h0M1007.4 669.7h0M1010.6 674.2h0M1012.0 670.8h0M1014.2 671.4h0M1016.2 668.7h0M1017.6 672.2h0M1023.4 670.5h0M1028.6 666.8h0M1028.4 671.0h0M1034.4 669.6h0M1039.3 669.5h0M1042.3 670.9h0M1044.4 666.5h0M1047.4 670.1h0M1049.9 671.7h0M1053.9 670.1h0M1055.1 670.0h0M1060.4 668.7h0M1061.3 670.2h0M1063.5 669.8h0M1069.0 673.4h0M1070.6 672.6h0M1073.5 668.6h0M1075.3 671.9h0M1079.0 671.2h0M1083.1 669.9h0M1086.7 670.5h0M1085.9 669.4h0M971.4 674.4h0M975.5 672.9h0M979.0 673.0h0M981.2 672.9h0M982.3 674.1h0M986.5 673.1h0M988.2 673.1h0M993.2 673.6h0M995.4 671.9h0M999.3 670.1h0M1001.5 673.3h0M1005.5 674.8h0M1005.1 674.4h0M1008.8 672.3h0M1012.3 674.1h0M1016.7 673.5h0M1021.0 672.9h0M1021.0 672.1h0M1026.9 672.7h0M1027.7 673.4h0M1031.0 673.6h0M1033.4 672.2h0M1033.9 675.3h0M1036.6 672.4h0M1041.6 674.4h0M1045.9 673.9h0M1047.1 672.6h0M1055.7 674.8h0M1056.7 674.4h0M1059.8 674.2h0M1063.4 675.3h0M1065.1 676.3h0M1069.7 673.5h0M1071.0 670.5h0M1075.5 676.8h0M1080.8 671.7h0M1079.7 670.9h0M1083.0 672.6h0M965.2 677.2h0M968.8 675.1h0M970.0 675.2h0M972.6 674.9h0M976.3 675.0h0M980.1 675.1h0M982.4 674.9h0M985.7 675.7h0M988.9 677.8h0M989.2 679.0h0M992.9 677.4h0M996.9 674.6h0M999.9 676.5h0M1003.0 674.2h0M1007.2 673.9h0M1008.5 676.1h0M1011.2 675.8h0M1014.5 677.0h0M1020.1 676.3h0M1020.1 677.4h0M1023.3 677.0h0M1026.5 677.3h0M1032.5 676.7h0M1028.7 676.3h0M1038.7 674.4h0M1038.2 677.1h0M1041.8 673.8h0M1044.7 675.3h0M1046.7 675.2h0M1050.3 674.4h0M1054.6 677.4h0M1055.3 675.8h0M1056.7 675.9h0M1061.1 675.7h0M1064.6 674.6h0M1068.2 674.7h0M1069.9 674.5h0M1074.3 676.8h0M1078.0 674.6h0M1081.1 676.0h0M1083.4 674.8h0M1083.6 674.2h0M958.5 678.9h0M962.9 678.4h0M964.9 678.0h0M970.6 679.0h0M972.8 678.5h0M975.0 677.9h0M977.4 677.8h0M980.9 677.3h0M981.8 678.7h0M985.8 679.1h0M988.8 677.9h0M992.5 676.8h0M993.3 677.6h0M998.0 676.9h0M1001.0 677.5h0M1004.5 677.4h0M1007.1 679.7h0M1010.5 676.8h0M1013.8 682.9h0M1018.6 677.8h0M1021.1 679.4h0M1020.5 679.4h0M1025.7 679.9h0M1027.9 678.1h0M1033.3 678.0h0M1039.5 678.2h0M1040.2 675.6h0M1042.1 679.8h0M1045.1 679.5h0M1045.4 678.2h0M1052.4 676.5h0M1052.3 679.9h0M1056.7 676.1h0M1060.8 679.1h0M1063.0 680.2h0M1067.1 677.1h0M1069.1 677.4h0M1069.3 678.8h0M1075.7 679.1h0M1078.0 677.4h0M1079.8 678.4h0M958.8 680.4h0M961.3 680.5h0M964.8 684.7h0M969.0 678.8h0M968.0 680.1h0M973.9 681.4h0M974.5 682.7h0M979.6 680.7h0M982.7 681.0h0M985.4 679.4h0M988.5 681.9h0M992.5 681.7h0M994.7 681.8h0M997.6 679.4h0M997.8 682.7h0M1000.8 681.6h0M1007.0 681.8h0M1008.4 680.1h0M1011.0 683.1h0M1015.9 681.2h0M1017.3 680.9h0M1021.7 680.1h0M1023.8 679.8h0M1024.4 680.8h0M1029.5 681.6h0M1033.2 679.5h0M1035.4 681.1h0M1039.4 681.3h0M1040.2 680.1h0M1043.5 681.2h0M1049.4 679.7h0M1049.6 682.5h0M1055.4 679.1h0M1054.7 682.9h0M1058.2 681.5h0M1062.6 681.5h0M1065.0 680.4h0M1064.6 679.8h0M1074.0 682.6h0M1075.6 679.1h0M1077.9 680.5h0M1078.5 680.7h0M1082.2 679.5h0M951.9 683.8h0M954.0 683.2h0M957.3 685.2h0M960.8 684.7h0M963.7 683.0h0M962.4 683.6h0M969.4 684.5h0M972.2 683.7h0M973.0 683.6h0M977.2 682.9h0M981.8 687.0h0M983.8 682.0h0M985.1 682.4h0M987.8 682.7h0M994.2 681.3h0M997.1 681.8h0M1000.4 682.7h0M1000.6 683.7h0M1003.7 682.1h0M1006.0 684.0h0M1009.8 680.3h0M1012.8 681.5h0M1016.6 684.5h0M1018.2 683.0h0M1021.5 684.3h0M1024.5 682.9h0M1026.3 683.6h0M1030.0 683.3h0M1034.4 684.1h0M1034.7 684.2h0M1040.7 684.6h0M1042.8 684.8h0M1047.9 683.2h0M1048.2 683.0h0M1053.9 684.4h0M1053.6 682.0h0M1057.6 682.7h0M1059.3 682.8h0M1065.3 683.5h0M1065.4 681.8h0M1069.6 684.8h0M1072.0 683.1h0M1073.7 683.9h0M1078.8 683.7h0M1077.0 682.6h0M1083.0 681.9h0M951.8 688.8h0M952.4 686.6h0M960.5 686.0h0M962.9 685.4h0M967.0 685.8h0M968.0 687.1h0M969.2 685.9h0M975.0 686.9h0M978.7 686.3h0M976.6 686.9h0M983.4 686.3h0M987.3 687.0h0M988.1 685.8h0M989.9 686.8h0M994.0 685.0h0M996.1 684.2h0M1001.3 685.8h0M1003.2 687.0h0M1003.9 687.8h0M1009.2 687.3h0M1010.4 684.0h0M1013.7 687.1h0M1015.5 686.7h0M1019.6 689.2h0M1023.6 685.9h0M1024.0 686.6h0M1030.0 686.4h0M1032.6 684.6h0M1036.0 686.1h0M1037.8 685.5h0M1042.1 686.3h0M1044.5 686.9h0M1046.5 686.6h0M1051.3 686.0h0M1052.0 685.5h0M1058.7 687.5h0M1057.5 684.2h0M1061.3 682.9h0M1064.0 687.5h0M1068.2 685.7h0M1070.0 688.4h0M1074.0 687.5h0M1077.6 688.4h0M1079.0 685.8h0M953.0 688.2h0M958.9 688.2h0M960.3 688.4h0M966.0 686.0h0M965.1 686.7h0M969.6 690.2h0M973.6 687.0h0M976.4 688.2h0M977.2 688.9h0M982.5 688.8h0M984.4 687.7h0M985.8 689.8h0M990.0 687.4h0M992.5 689.5h0M996.3 686.9h0M1000.0 685.9h0M1003.1 688.5h0M1005.0 688.8h0M1007.6 689.5h0M1011.6 687.0h0M1016.1 690.7h0M1016.2 689.2h0M1016.9 690.5h0M1024.8 690.1h0M1028.4 688.1h0M1029.2 691.8h0M1030.4 689.7h0M1035.4 688.3h0M1034.0 689.5h0M1039.0 690.2h0M1043.2 689.9h0M1045.5 689.1h0M1047.9 688.2h0M1052.8 689.1h0M1055.5 686.5h0M1056.7 688.4h0M1062.3 687.7h0M1060.8 686.9h0M1066.0 687.7h0M1069.5 688.3h0M1071.2 689.3h0M1074.4 689.1h0M1077.6 687.8h0M1081.4 689.0h0M949.3 691.2h0M951.2 692.4h0M953.8 690.5h0M954.7 690.3h0M964.1 690.8h0M963.5 692.8h0M966.2 690.3h0M969.4 693.1h0M971.6 691.0h0M974.7 691.0h0M979.3 691.2h0M982.3 691.0h0M985.6 693.5h0M986.8 692.9h0M992.6 692.5h0M994.5 691.7h0M998.7 690.6h0M997.7 692.2h0M1001.2 690.1h0M1007.4 688.2h0M1008.5 691.4h0M1010.1 690.2h0M1013.6 690.8h0M1018.7 692.0h0M1021.2 692.2h0M1022.5 692.1h0M1027.1 691.0h0M1028.6 691.0h0M1030.8 692.9h0M1034.8 692.9h0M1038.1 690.7h0M1042.1 690.4h0M1044.2 692.5h0M1049.7 688.5h0M1046.9 690.9h0M1052.8 691.7h0M1055.7 692.5h0M1057.1 691.6h0M1060.8 693.0h0M1064.0 690.6h0M1066.7 687.8h0M1072.3 692.6h0M1075.3 690.6h0M1077.0 688.0h0M1078.6 690.7h0M1081.6 690.6h0M948.9 693.2h0M954.1 692.0h0M956.7 694.0h0M963.7 692.6h0M963.9 694.3h0M963.6 691.9h0M968.6 693.6h0M972.1 692.9h0M975.6 692.1h0M977.7 694.2h0M981.8 692.7h0M983.3 692.9h0M986.4 695.7h0M989.2 693.4h0M994.4 695.9h0M995.3 693.0h0M997.8 690.7h0M1005.4 693.4h0M1005.3 694.4h0M1008.4 691.3h0M1009.2 693.4h0M1010.7 694.1h0M1017.1 694.9h0M1015.9 695.0h0M1022.3 693.1h0M1028.9 695.6h0M1026.7 692.4h0M1033.4 695.4h0M1035.0 692.6h0M1037.2 693.4h0M1040.6 693.7h0M1044.5 695.4h0M1045.8 695.3h0M1047.3 695.1h0M1052.1 694.7h0M1054.8 691.9h0M1059.1 692.8h0M1062.2 692.3h0M1063.4 693.6h0M1066.6 693.5h0M1070.7 693.7h0M1072.1 692.8h0M1074.9 693.8h0M1078.1 691.4h0M1080.5 694.4h0M955.5 695.6h0M958.6 696.9h0M964.1 695.4h0M964.1 696.3h0M966.4 698.5h0M968.5 694.9h0M973.4 694.8h0M976.2 695.5h0M979.1 695.4h0M982.2 697.3h0M984.5 698.0h0M987.7 695.1h0M991.4 697.7h0M995.0 697.7h0M998.6 696.3h0M1000.0 694.9h0M1003.5 694.7h0M1003.8 697.4h0M1009.0 695.1h0M1013.2 695.1h0M1015.8 695.9h0M1016.5 696.5h0M1020.0 697.6h0M1023.5 697.0h0M1024.4 696.1h0M1029.3 695.1h0M1031.6 698.7h0M1034.5 698.1h0M1039.5 695.5h0M1042.2 697.3h0M1044.8 698.2h0M1046.2 695.4h0M1049.7 693.8h0M1052.4 697.0h0M1056.3 693.5h0M1060.5 695.6h0M1062.2 696.0h0M1063.6 698.7h0M1069.8 696.7h0M1071.8 694.6h0M1073.8 696.1h0M1077.6 697.0h0M1080.0 698.8h0M1081.0 697.1h0M945.7 699.1h0M953.7 696.4h0M958.1 698.8h0M959.2 698.7h0M965.4 699.5h0M964.5 700.2h0M970.0 699.3h0M972.0 698.9h0M974.2 699.9h0M976.5 697.4h0M981.0 699.4h0M983.8 698.0h0M987.2 704.3h0M990.8 698.1h0M991.5 700.6h0M996.4 697.5h0M997.4 697.5h0M1001.9 699.9h0M1002.0 700.3h0M1006.9 697.4h0M1012.4 700.8h0M1013.6 698.1h0M1016.2 699.3h0M1019.6 697.5h0M1020.5 698.3h0M1023.9 698.0h0M1027.6 699.5h0M1031.7 697.6h0M1033.9 697.6h0M1036.5 699.7h0M1042.1 702.6h0M1044.0 699.2h0M1045.1 699.9h0M1051.0 700.6h0M1052.4 700.5h0M1053.8 698.7h0M1056.7 699.4h0M1058.9 697.8h0M1062.4 698.1h0M1067.4 697.3h0M1067.7 700.8h0M1073.5 698.0h0M1074.5 700.7h0M1079.4 699.9h0M1082.4 698.2h0M1084.3 696.9h0M948.3 700.8h0M949.5 701.7h0M952.7 704.2h0M962.5 702.0h0M966.0 700.8h0M964.2 701.2h0M969.3 699.6h0M974.9 701.4h0M975.4 701.9h0M976.6 700.2h0M980.4 701.4h0M984.1 703.2h0M987.2 699.7h0M990.8 700.3h0M993.2 702.3h0M998.5 700.2h0M1001.9 701.0h0M1006.0 702.2h0M1006.3 701.4h0M1008.3 701.8h0M1012.2 703.4h0M1015.1 700.6h0M1018.8 700.9h0M1019.4 699.0h0M1021.8 701.4h0M1026.0 699.7h0M1029.4 702.0h0M1034.3 700.9h0M1034.8 701.6h0M1040.1 701.3h0M1039.5 700.1h0M1041.7 698.7h0M1044.9 698.8h0M1049.9 700.5h0M1054.3 701.0h0M1056.0 700.0h0M1057.8 701.8h0M1063.1 701.9h0M1064.3 702.5h0M1066.1 700.9h0M1069.6 702.4h0M1072.7 700.2h0M1077.0 702.3h0M912.2 704.7h0M913.6 703.7h0M930.8 707.5h0M945.7 703.4h0M948.3 702.3h0M953.0 707.4h0M959.0 702.8h0M962.0 704.2h0M961.4 705.4h0M964.0 704.3h0M969.2 704.0h0M970.2 703.4h0M975.7 702.7h0M976.4 702.7h0M979.3 702.8h0M984.9 705.3h0M990.5 703.2h0M990.2 703.9h0M992.9 702.7h0M994.0 705.2h0M996.8 702.6h0M1000.0 705.2h0M1006.4 705.7h0M1009.1 703.0h0M1010.0 703.3h0M1012.9 704.1h0M1017.2 702.9h0M1017.3 702.9h0M1024.4 702.5h0M1027.6 703.4h0M1029.0 706.4h0M1032.6 703.9h0M1033.5 702.8h0M1036.6 702.8h0M1038.9 704.9h0M1045.3 705.8h0M1045.3 703.1h0M1047.4 703.4h0M1050.2 705.6h0M1054.4 703.9h0M1055.1 703.8h0M1059.0 702.9h0M1066.0 703.2h0M1068.3 703.9h0M1065.9 704.4h0M1076.3 703.1h0M914.3 705.6h0M915.3 706.3h0M920.5 707.5h0M927.0 707.2h0M926.7 706.4h0M940.1 708.1h0M943.5 704.4h0M945.7 706.6h0M950.9 707.3h0M953.7 710.0h0M954.1 708.9h0M959.4 706.5h0M959.9 706.0h0M963.9 706.0h0M964.9 706.0h0M968.4 706.2h0M975.0 709.2h0M975.7 707.9h0M979.9 703.9h0M983.7 704.2h0M983.3 705.3h0M989.4 705.1h0M990.2 707.2h0M995.0 707.8h0M996.0 707.4h0M1002.7 705.1h0M1005.3 703.8h0M1004.5 707.2h0M1006.7 704.8h0M1013.6 708.2h0M1013.2 707.7h0M1017.8 705.0h0M1023.3 706.1h0M1024.6 706.0h0M1026.7 706.4h0M1028.5 706.6h0M1034.4 704.9h0M1035.3 709.1h0M1036.7 704.6h0M1040.9 704.5h0M1044.8 707.8h0M1047.0 707.3h0M1048.6 706.4h0M1054.1 703.8h0M1060.1 706.1h0M1061.4 706.0h0M1063.7 705.0h0M1067.1 706.6h0M1069.6 704.5h0M1072.9 707.6h0M1073.8 706.7h0M916.3 709.7h0M918.1 708.4h0M925.2 709.4h0M928.6 708.7h0M930.9 708.4h0M931.0 707.0h0M936.8 707.4h0M939.6 707.7h0M947.2 709.3h0M947.5 708.6h0M953.1 707.6h0M955.1 709.4h0M956.4 708.5h0M961.3 707.0h0M963.2 709.2h0M966.1 709.7h0M970.5 707.7h0M972.5 706.9h0M976.8 709.9h0M977.8 707.9h0M978.9 709.6h0M982.2 709.3h0M987.7 709.9h0M989.1 708.5h0M991.4 708.9h0M995.7 711.4h0M998.5 708.7h0M1001.6 708.1h0M1006.2 710.4h0M1009.3 709.1h0M1011.1 707.0h0M1010.9 712.1h0M1020.3 709.7h0M1023.0 707.1h0M1024.8 711.0h0M1028.0 709.6h0M1030.4 707.9h0M1031.9 710.2h0M1037.4 711.1h0M1040.2 709.2h0M1044.2 709.7h0M1044.9 708.4h0M1049.3 707.6h0M1057.0 708.6h0M1057.6 708.9h0M1061.5 709.2h0M1061.8 708.0h0M1075.5 706.0h0M914.6 710.4h0M916.5 711.4h0M922.1 712.4h0M924.9 713.3h0M926.6 711.6h0M932.2 711.9h0M933.7 711.4h0M939.4 709.4h0M941.9 711.1h0M943.9 711.4h0M945.9 713.1h0M949.9 710.7h0M953.0 711.9h0M954.7 711.9h0M957.2 712.5h0M960.1 709.9h0M963.6 710.7h0M967.8 710.8h0M971.5 708.7h0M973.6 711.7h0M976.8 711.7h0M984.2 711.5h0M985.2 712.6h0M986.3 708.0h0M991.7 709.2h0M995.6 712.5h0M995.9 711.5h0M1000.9 709.3h0M1001.8 713.9h0M1007.5 712.6h0M1008.8 711.2h0M1012.9 713.6h0M1014.8 713.7h0M1018.4 710.1h0M1019.8 713.4h0M1025.0 711.1h0M1028.7 711.7h0M1027.8 711.7h0M1034.9 710.8h0M1034.0 710.4h0M1036.1 714.1h0M1039.4 712.9h0M1045.6 713.4h0M1049.5 711.2h0M1050.0 709.3h0M1050.8 712.8h0M1055.6 711.2h0M1059.5 710.9h0M1064.1 712.1h0M1064.1 711.3h0M914.5 714.8h0M915.5 712.6h0M918.5 712.3h0M920.4 714.4h0M924.9 713.1h0M927.4 713.7h0M929.7 714.3h0M934.1 715.5h0M936.5 712.8h0M939.8 714.7h0M944.0 714.5h0M945.3 711.4h0M951.5 714.9h0M951.7 713.3h0M954.6 715.6h0M957.2 711.8h0M960.0 713.6h0M965.0 716.2h0M971.1 716.5h0M973.5 713.5h0M976.5 716.1h0M976.4 712.5h0M981.6 714.3h0M984.0 713.0h0M986.7 712.8h0M989.6 712.8h0M993.4 713.9h0M995.0 713.0h0M995.8 713.4h0M1001.2 712.5h0M1004.3 714.7h0M1007.9 715.4h0M1008.3 715.9h0M1013.4 711.9h0M1015.8 716.7h0M1019.0 715.9h0M1023.8 713.5h0M1025.4 714.9h0M1028.3 713.5h0M1030.3 713.9h0M1036.5 714.5h0M1038.7 713.7h0M1042.7 712.0h0M1045.1 715.8h0M1049.8 714.4h0M1050.5 713.6h0M1054.7 714.4h0M1055.3 713.9h0M1061.0 713.3h0M1063.3 714.2h0M915.0 716.4h0M918.3 717.0h0M920.7 716.2h0M924.1 714.3h0M928.8 716.5h0M932.7 715.9h0M937.3 717.9h0M939.4 716.6h0M944.3 715.4h0M948.4 717.2h0M949.5 716.8h0M950.9 716.4h0M956.5 718.8h0M957.7 719.0h0M962.5 716.1h0M964.4 716.9h0M966.2 717.2h0M968.1 716.2h0M973.8 717.9h0M978.2 716.6h0M979.5 718.4h0M984.7 717.7h0M988.2 718.1h0M992.5 716.0h0M993.1 716.7h0M996.3 716.0h0M998.5 718.5h0M1001.9 718.4h0M1005.6 716.2h0M1010.3 716.7h0M1009.3 717.1h0M1015.5 716.0h0M1020.1 717.0h0M1023.9 716.1h0M1026.1 718.2h0M1027.9 719.1h0M1032.5 717.1h0M1034.9 716.2h0M1036.7 715.2h0M1043.0 716.4h0M1043.5 715.0h0M1046.8 714.3h0M1049.2 718.7h0M1053.6 717.7h0M1056.3 717.1h0M1060.3 715.6h0M1061.2 719.3h0M1066.5 715.5h0M917.6 720.7h0M917.1 719.0h0M923.5 719.4h0M923.4 718.8h0M929.6 719.1h0M930.1 717.8h0M933.4 718.7h0M937.0 719.6h0M935.2 721.4h0M941.1 718.7h0M945.6 718.5h0M949.8 717.5h0M952.0 718.3h0M952.2 716.4h0M957.8 719.0h0M961.0 719.3h0M965.5 718.9h0M966.2 720.8h0M968.7 719.5h0M974.2 718.8h0M975.2 720.0h0M978.0 720.7h0M982.2 719.0h0M984.1 720.2h0M986.3 719.9h0M991.0 719.5h0M991.6 720.5h0M996.2 722.5h0M998.4 719.4h0M1001.4 720.5h0M1005.5 719.9h0M1007.6 719.7h0M1010.6 719.1h0M1018.3 719.4h0M1019.2 720.3h0M1022.1 719.6h0M1021.9 720.6h0M1025.9 720.6h0M1030.8 717.1h0M1033.4 717.5h0M1037.9 719.0h0M1038.7 719.7h0M1042.1 719.0h0M1046.0 717.8h0M1048.4 719.5h0M1051.1 718.7h0M1055.2 717.7h0M1056.2 719.3h0M1060.3 718.6h0M1061.6 720.1h0M1066.4 720.2h0M1067.5 719.5h0M916.8 721.6h0M920.4 721.2h0M923.8 721.8h0M927.2 722.8h0M929.8 723.7h0M931.6 722.0h0M936.5 721.5h0M937.3 723.7h0M940.6 720.4h0M945.9 722.7h0M947.4 721.3h0M949.9 721.3h0M954.1 719.8h0M954.7 721.6h0M958.3 720.1h0M961.8 719.6h0M965.6 722.2h0M965.6 720.1h0M973.1 722.2h0M972.9 723.1h0M974.1 721.7h0M978.3 721.1h0M982.7 720.0h0M986.9 721.4h0M986.5 722.0h0M989.8 721.1h0M994.5 721.6h0M996.2 722.9h0M1000.7 724.1h0M1001.8 721.5h0M1005.6 720.0h0M1008.7 724.3h0M1014.0 722.3h0M1015.6 723.0h0M1019.6 720.0h0M1019.5 721.8h0M1022.4 721.5h0M1026.5 722.3h0M1028.6 720.5h0M1033.0 722.3h0M1034.8 720.5h0M1038.1 719.8h0M1039.4 723.2h0M1043.1 722.2h0M1050.0 722.2h0M1052.9 720.0h0M1055.7 720.5h0M1060.0 721.1h0M1062.0 720.4h0M1065.2 721.9h0M1069.4 721.6h0M916.7 724.6h0M919.0 723.7h0M922.1 726.5h0M922.5 724.2h0M930.1 725.0h0M929.1 723.5h0M932.4 724.1h0M936.7 722.2h0M941.0 724.8h0M942.1 724.3h0M947.2 725.0h0M949.2 725.9h0M951.1 722.8h0M954.2 725.0h0M957.8 725.5h0M961.0 724.6h0M962.9 721.3h0M970.2 724.6h0M972.0 725.6h0M976.3 722.8h0M978.4 724.6h0M979.0 726.2h0M986.2 725.1h0M985.7 723.0h0M989.3 725.3h0M991.4 722.9h0M994.2 724.0h0M996.9 723.2h0M1000.4 723.4h0M1004.2 725.2h0M1005.7 725.3h0M1011.7 724.2h0M1014.8 723.2h0M1014.5 724.5h0M1019.1 725.0h0M1021.5 724.4h0M1023.0 721.7h0M1026.1 724.8h0M1030.6 723.4h0M1035.8 724.5h0M1036.8 724.6h0M1040.2 722.4h0M1041.2 724.0h0M1046.5 724.3h0M1049.7 723.0h0M1051.2 725.8h0M1054.9 724.5h0M1057.1 725.4h0M1058.9 723.3h0M1066.5 726.0h0M1067.2 725.6h0M1068.9 724.9h0M920.6 726.5h0M922.7 728.6h0M926.4 727.5h0M929.5 728.4h0M931.3 728.0h0M937.0 728.1h0M937.8 727.6h0M941.8 727.8h0M942.5 725.9h0M946.7 725.5h0M951.1 726.5h0M952.9 726.7h0M956.2 724.0h0M959.2 726.8h0M963.4 726.7h0M965.5 728.8h0M970.0 727.0h0M969.9 726.7h0M971.8 729.6h0M974.9 728.8h0M978.9 726.7h0M978.5 727.4h0M982.5 724.2h0M988.2 724.7h0M990.8 727.2h0M993.5 726.4h0M1000.0 727.2h0M1002.6 727.3h0M1005.6 724.5h0M1009.2 729.2h0M1012.5 726.8h0M1016.9 727.3h0M1018.4 725.1h0M1018.0 726.8h0M1021.6 729.3h0M1024.9 725.6h0M1027.9 728.9h0M1033.5 726.8h0M1037.3 727.3h0M1039.3 724.6h0M1041.9 729.3h0M1042.5 729.2h0M1049.0 725.4h0M1050.2 726.5h0M1052.8 726.9h0M1055.8 728.6h0M1061.5 727.8h0M1063.1 725.5h0M1065.1 727.0h0M1067.4 727.8h0M1071.0 725.2h0M921.8 728.1h0M920.7 729.1h0M925.9 731.7h0M929.1 728.5h0M929.8 727.9h0M934.3 729.2h0M935.9 729.8h0M939.2 730.4h0M942.7 731.4h0M945.6 729.0h0M947.4 727.3h0M950.3 730.8h0M956.0 726.9h0M957.6 730.3h0M958.6 731.5h0M962.6 730.5h0M966.4 729.9h0M968.3 729.0h0M969.8 729.8h0M975.1 730.8h0M978.1 730.8h0M979.7 729.0h0M984.8 730.7h0M986.0 730.6h0M988.9 729.5h0M992.6 731.6h0M994.7 726.1h0M999.1 729.3h0M1002.5 729.3h0M1003.2 731.5h0M1008.1 730.1h0M1010.4 729.3h0M1011.3 730.2h0M1016.7 729.4h0M1020.6 730.2h0M1020.7 727.0h0M1023.7 730.2h0M1025.6 730.6h0M1031.2 728.8h0M1034.0 729.5h0M1036.4 730.0h0M1039.5 731.3h0M1044.0 730.9h0M1045.2 729.0h0M1048.3 730.4h0M1051.5 730.4h0M1054.9 726.7h0M1057.4 727.0h0M1061.3 730.3h0M1061.5 729.5h0M1065.1 729.9h0M1068.2 729.7h0M1071.8 728.9h0M920.8 733.8h0M922.6 733.7h0M928.5 732.3h0M929.1 735.2h0M933.1 732.9h0M932.7 729.0h0M937.4 730.9h0M941.6 731.0h0M946.4 730.5h0M947.0 728.5h0M950.5 733.6h0M952.6 729.6h0M955.7 732.6h0M961.5 732.3h0M960.7 732.9h0M964.9 731.4h0M968.2 733.9h0M971.7 731.5h0M973.1 730.8h0M975.6 731.9h0M981.2 734.3h0M984.7 732.0h0M985.7 730.6h0M989.9 734.4h0M992.6 729.3h0M993.8 730.8h0M996.9 730.1h0M1001.7 730.8h0M1003.5 728.9h0M1007.5 734.0h0M1012.2 733.2h0M1015.3 732.0h0M1015.7 731.4h0M1023.6 735.0h0M1026.8 733.3h0M1031.0 731.5h0M1033.5 734.7h0M1034.5 734.5h0M1038.3 733.6h0M1041.6 731.7h0M1042.8 731.0h0M1047.0 736.4h0M1049.5 731.6h0M1052.7 732.3h0M1057.2 730.7h0M1059.1 733.0h0M1061.5 731.8h0M1064.2 733.2h0M1068.9 732.7h0M926.6 733.7h0M930.4 738.3h0M932.6 733.5h0M935.7 733.4h0M938.3 735.3h0M939.9 736.0h0M946.5 735.0h0M948.4 733.8h0M950.6 736.9h0M956.2 732.9h0M957.5 737.4h0M963.9 734.4h0M964.8 733.7h0M967.8 733.1h0M972.5 736.1h0M974.0 735.3h0M978.8 736.1h0M977.9 733.6h0M985.7 733.2h0M988.7 736.4h0M990.2 733.3h0M993.9 735.4h0M997.2 735.1h0M1001.0 731.3h0M1004.4 734.6h0M1006.5 735.0h0M1010.7 736.6h0M1014.1 734.2h0M1017.0 734.5h0M1019.7 732.3h0M1024.2 734.8h0M1024.8 733.7h0M1027.9 732.6h0M1032.4 736.1h0M1033.3 733.4h0M1039.2 733.2h0M1040.0 733.3h0M1044.8 733.2h0M1045.7 734.9h0M1051.0 734.5h0M1052.5 736.6h0M1056.8 735.1h0M1057.2 732.6h0M1058.6 735.6h0M1063.8 735.3h0M1065.5 732.3h0M925.3 736.1h0M927.5 736.1h0M932.6 736.6h0M934.8 738.6h0M935.7 736.9h0M940.5 739.1h0M942.9 738.7h0M949.3 735.8h0M949.9 736.9h0M953.9 733.6h0M954.7 738.4h0M958.2 737.1h0M962.1 737.2h0M964.2 733.8h0M969.0 739.2h0M972.6 738.4h0M973.2 734.7h0M976.6 739.2h0M978.5 736.9h0M983.6 735.0h0M985.8 737.3h0M990.2 735.2h0M990.6 737.3h0M995.4 738.1h0M996.0 737.9h0M1005.8 737.7h0M1004.5 737.5h0M1007.4 736.0h0M1012.2 736.6h0M1015.7 740.5h0M1018.9 738.4h0M1020.3 735.2h0M1022.3 737.5h0M1028.3 737.0h0M1029.9 738.6h0M1032.7 737.2h0M1034.0 735.1h0M1041.2 736.8h0M1038.7 735.5h0M1043.1 735.8h0M1050.8 738.6h0M1053.6 736.1h0M1056.3 738.5h0M1062.4 737.9h0M1064.0 736.6h0M1065.6 736.6h0M927.5 740.3h0M932.2 740.3h0M933.3 739.3h0M937.6 739.7h0M938.3 740.8h0M941.6 739.3h0M944.6 739.4h0M945.9 740.3h0M950.2 741.4h0M955.8 742.2h0M957.5 738.3h0M961.4 739.3h0M962.2 741.1h0M965.2 737.1h0M969.3 740.0h0M971.3 742.3h0M973.9 738.1h0M979.0 742.2h0M978.9 740.3h0M986.9 737.0h0M985.2 740.9h0M989.9 740.6h0M994.9 739.6h0M996.9 741.1h0M999.9 739.6h0M1001.3 740.6h0M1006.9 742.0h0M1007.5 740.7h0M1010.3 738.6h0M1009.6 740.2h0M1015.2 740.7h0M1020.3 741.9h0M1022.5 741.0h0M1028.0 738.6h0M1029.4 742.7h0M1033.2 742.6h0M1038.1 737.3h0M1039.0 739.9h0M1042.2 738.2h0M1046.3 740.6h0M1049.0 739.9h0M1049.6 738.5h0M1051.1 740.3h0M1056.8 740.8h0M1059.4 739.6h0M1060.7 740.9h0M938.0 741.3h0M938.4 741.5h0M940.8 741.2h0M945.0 744.4h0M949.1 742.9h0M950.1 742.7h0M952.2 741.4h0M957.0 741.1h0M958.4 742.0h0M962.8 740.8h0M963.5 737.9h0M969.3 742.5h0M972.0 742.2h0M973.0 742.1h0M976.6 742.4h0M978.9 744.3h0M980.5 744.9h0M985.9 741.7h0M988.0 743.3h0M991.0 743.5h0M994.4 743.5h0M997.8 743.6h0M1000.4 742.8h0M1001.6 742.1h0M1006.2 743.0h0M1008.6 740.8h0M1012.4 743.6h0M1014.2 743.2h0M1017.2 741.3h0M1019.4 742.1h0M1027.2 741.5h0M1029.2 742.9h0M1033.5 742.6h0M1034.0 742.0h0M1038.4 742.3h0M1040.9 742.4h0M1045.5 740.8h0M1048.9 743.9h0M1050.9 740.6h0M1056.0 739.5h0M1056.2 741.6h0M1058.6 741.6h0M1062.4 741.6h0M934.5 746.6h0M940.6 745.1h0M940.9 743.2h0M944.0 745.9h0M948.1 744.3h0M952.5 747.0h0M955.2 745.9h0M956.0 744.5h0M962.0 746.8h0M962.6 742.6h0M968.9 745.0h0M968.7 744.8h0M971.4 744.9h0M974.1 744.4h0M979.0 745.6h0M979.2 744.7h0M982.8 746.8h0M986.1 745.1h0M989.3 743.4h0M992.9 745.6h0M995.3 744.4h0M997.4 742.9h0M1000.7 746.4h0M1002.3 743.7h0M1010.1 744.8h0M1011.5 745.0h0M1014.9 747.4h0M1016.6 744.4h0M1020.0 744.8h0M1021.6 745.1h0M1025.9 742.9h0M1030.9 745.1h0M1032.4 745.7h0M1031.5 743.7h0M1036.2 742.3h0M1039.8 744.6h0M1044.0 744.4h0M1047.2 743.3h0M1048.8 747.6h0M1052.5 746.5h0M1054.2 745.4h0M1055.5 742.7h0M930.7 748.1h0M931.1 746.9h0M936.2 748.5h0M935.8 746.5h0M940.3 746.9h0M944.6 745.8h0M946.7 748.7h0M948.9 745.6h0M951.7 747.2h0M956.4 747.6h0M958.3 746.9h0M963.1 747.8h0M963.8 749.7h0M968.6 748.0h0M971.7 746.4h0M973.6 746.5h0M976.7 746.9h0M979.0 746.2h0M984.1 744.5h0M985.7 747.4h0M987.0 746.9h0M994.4 747.5h0M999.6 744.9h0M999.7 747.8h0M1003.7 747.1h0M1004.6 746.3h0M1010.1 747.9h0M1010.4 747.4h0M1013.1 748.0h0M1017.7 745.7h0M1021.1 749.3h0M1021.7 748.2h0M1030.8 744.9h0M1031.6 749.9h0M1035.9 746.3h0M1038.8 744.3h0M1040.4 748.0h0M1042.7 747.7h0M1048.4 748.0h0M1050.3 748.6h0M1054.1 748.6h0M1053.9 747.4h0M1059.3 746.4h0M1060.2 748.2h0M931.0 749.1h0M935.0 747.3h0M937.4 750.6h0M941.1 750.9h0M943.3 749.3h0M944.3 751.0h0M947.5 750.1h0M949.7 750.4h0M951.3 748.5h0M959.0 750.6h0M960.8 751.3h0M962.9 748.1h0M966.9 750.5h0M968.5 749.0h0M972.1 748.5h0M977.3 747.5h0M978.0 749.5h0M979.8 752.1h0M985.4 750.0h0M987.1 751.6h0M990.3 749.9h0M991.5 750.7h0M996.4 750.3h0M998.2 751.0h0M1000.2 750.5h0M1005.0 749.6h0M1005.5 749.0h0M1009.7 748.1h0M1014.8 752.0h0M1019.3 748.7h0M1021.3 750.9h0M1023.7 750.3h0M1026.4 750.4h0M1030.0 751.5h0M1034.2 748.9h0M1034.5 749.4h0M1038.8 751.3h0M1043.2 750.3h0M1045.1 747.4h0M1048.0 749.1h0M1053.0 747.5h0M1055.8 748.8h0M1055.3 749.8h0M930.9 753.3h0M932.1 752.6h0M936.3 752.8h0M939.7 753.2h0M938.9 750.4h0M944.1 752.9h0M946.4 750.6h0M949.7 751.3h0M952.6 752.9h0M954.6 753.4h0M959.2 752.6h0M962.8 755.2h0M963.4 751.6h0M966.9 754.1h0M969.1 751.5h0M974.3 751.6h0M975.5 752.3h0M980.1 752.9h0M981.9 752.9h0M983.2 753.1h0M988.3 754.4h0M994.0 753.7h0M994.1 753.6h0M996.0 752.7h0M1000.4 752.9h0M1002.8 752.8h0M1009.2 752.7h0M1009.8 754.8h0M1011.7 751.8h0M1016.6 754.2h0M1018.2 750.3h0M1019.4 752.1h0M1022.7 753.5h0M1024.9 751.3h0M1029.4 752.8h0M1032.0 753.1h0M1035.0 751.7h0M1037.9 751.1h0M1041.0 751.9h0M1045.3 752.4h0M1050.1 751.9h0M1052.5 752.1h0M1055.8 753.9h0M1057.9 751.4h0M927.0 755.1h0M935.3 753.8h0M934.5 754.5h0M939.4 756.1h0M941.8 756.1h0M945.5 753.3h0M948.1 752.7h0M950.7 755.7h0M953.9 754.7h0M957.2 754.9h0M960.9 753.2h0M963.1 753.5h0M966.5 755.2h0M968.3 756.2h0M968.8 754.7h0M973.3 757.3h0M979.3 757.3h0M979.9 755.2h0M982.4 753.6h0M985.5 757.7h0M991.5 755.3h0M991.6 756.0h0M996.2 756.4h0M999.9 755.9h0M999.3 757.1h0M1005.5 753.5h0M1007.8 754.8h0M1010.4 755.6h0M1013.2 754.0h0M1015.2 753.1h0M1022.5 756.7h0M1024.4 755.0h0M1025.3 751.9h0M1030.6 756.7h0M1032.2 755.9h0M1033.1 754.8h0M1035.4 753.8h0M1038.7 753.2h0M1041.6 755.8h0M1045.7 755.6h0M1051.5 754.6h0M1052.5 756.2h0M1052.3 757.2h0M928.5 756.8h0M928.6 755.9h0M930.8 759.2h0M935.9 756.2h0M935.6 756.5h0M939.9 754.6h0M943.0 758.1h0M946.0 755.9h0M949.9 757.7h0M952.6 757.6h0M956.8 757.2h0M959.5 755.7h0M962.1 759.2h0M964.6 758.0h0M969.5 757.6h0M970.8 756.8h0M973.3 759.4h0M973.9 758.3h0M980.5 755.9h0M982.0 759.7h0M986.1 757.7h0M987.5 759.8h0M991.0 757.0h0M994.8 757.5h0M1000.4 757.0h0M1004.2 756.0h0M1005.0 755.7h0M1009.6 757.8h0M1011.9 757.9h0M1014.8 757.0h0M1018.1 757.3h0M1022.1 758.2h0M1023.3 757.3h0M1026.0 756.5h0M1030.3 757.9h0M1032.8 759.7h0M1035.0 754.3h0M1041.0 757.6h0M1043.2 760.0h0M1049.6 758.0h0M1049.7 756.9h0M931.2 760.4h0M933.9 759.9h0M937.3 760.1h0M940.0 760.8h0M941.8 760.4h0M947.1 757.5h0M946.4 759.0h0M951.7 759.9h0M952.6 759.7h0M957.3 760.9h0M962.3 759.5h0M961.1 761.0h0M965.4 760.1h0M969.8 759.4h0M971.0 760.8h0M974.0 759.4h0M979.0 760.8h0M981.9 759.7h0M985.8 763.3h0M990.0 757.8h0M991.8 762.0h0M994.7 757.3h0M1002.5 758.3h0M1003.0 761.3h0M1005.9 761.9h0M1009.1 758.9h0M1011.2 759.8h0M1020.2 760.0h0M1021.0 758.4h0M1023.3 758.8h0M1025.0 762.1h0M1030.5 759.3h0M1031.2 758.0h0M1033.7 759.8h0M1035.6 760.6h0M1041.1 760.7h0M1044.1 760.6h0M1043.3 761.0h0M1049.6 757.8h0M1050.8 759.5h0M931.5 761.8h0M933.3 764.8h0M935.2 759.9h0M937.1 763.8h0M941.0 763.3h0M945.8 762.9h0M946.5 762.8h0M950.2 763.7h0M950.8 761.1h0M956.5 762.3h0M957.9 759.7h0M960.9 761.5h0M965.1 761.5h0M969.2 763.8h0M971.5 761.0h0M973.8 763.1h0M975.3 763.2h0M979.9 762.4h0M983.9 762.0h0M987.1 761.9h0M989.7 761.6h0M994.6 765.3h0M998.5 762.9h0M1001.0 762.1h0M1005.2 760.8h0M1007.2 760.7h0M1009.3 763.1h0M1012.2 763.1h0M1014.1 760.1h0M1018.1 763.3h0M1019.1 762.1h0M1024.5 763.8h0M1026.4 764.1h0M1028.6 763.8h0M1032.5 762.9h0M1034.2 761.6h0M1039.0 763.7h0M1040.7 759.9h0M1042.7 762.2h0M931.0 765.0h0M933.7 765.8h0M936.1 767.7h0M938.3 764.9h0M943.1 767.1h0M944.5 765.2h0M947.8 766.2h0M948.0 762.8h0M954.9 766.7h0M958.0 765.4h0M961.3 763.3h0M964.0 764.2h0M967.6 764.7h0M968.9 764.5h0M971.5 765.8h0M974.7 767.8h0M976.3 765.7h0M980.9 767.0h0M986.0 766.2h0M987.1 765.3h0M990.5 764.9h0M994.2 764.1h0M997.9 765.0h0M996.1 765.4h0M1003.4 764.2h0M1004.5 768.4h0M1007.6 766.5h0M1011.6 765.3h0M1013.6 766.0h0M1018.8 764.8h0M1023.0 764.5h0M1025.7 765.4h0M1030.0 764.1h0M1034.7 764.5h0M1036.5 766.0h0M1039.9 764.9h0M1042.4 765.9h0M1046.3 764.9h0M930.6 767.5h0M934.4 764.6h0M936.8 766.1h0M938.1 766.8h0M940.4 768.3h0M942.1 768.1h0M947.4 767.8h0M949.7 765.4h0M952.3 768.1h0M956.6 766.9h0M957.8 769.9h0M959.5 770.1h0M962.9 768.8h0M968.2 768.1h0M969.0 766.5h0M973.1 767.8h0M974.1 769.3h0M980.6 767.6h0M982.4 764.9h0M984.9 765.7h0M989.2 767.6h0M991.2 768.2h0M991.8 767.5h0M997.6 767.4h0M1000.3 769.1h0M1000.7 767.0h0M1006.5 767.7h0M1008.1 768.7h0M1012.5 768.4h0M1013.7 768.2h0M1018.0 766.3h0M1020.1 765.6h0M1023.9 766.8h0M1026.4 766.9h0M1030.6 767.5h0M1031.3 767.4h0M1033.7 768.6h0M1037.4 767.3h0M1040.2 766.7h0M931.7 769.9h0M936.2 769.1h0M934.0 770.1h0M937.6 770.4h0M942.7 771.0h0M946.1 769.7h0M952.2 769.4h0M953.2 769.7h0M956.9 769.7h0M959.9 769.2h0M965.5 770.9h0M965.9 769.4h0M969.3 770.6h0M974.0 768.3h0M976.1 771.2h0M977.2 770.4h0M980.3 771.3h0M983.8 768.6h0M987.0 770.9h0M988.5 772.0h0M993.4 767.7h0M995.1 769.9h0M998.5 769.6h0M1001.2 770.7h0M1003.6 769.8h0M1005.8 770.8h0M1009.4 770.7h0M1013.3 773.5h0M1015.0 769.7h0M1018.6 769.0h0M1022.4 768.0h0M1024.2 774.1h0M1027.7 772.2h0M1030.6 770.5h0M1034.0 771.2h0M1037.7 771.5h0M1040.1 769.7h0M934.6 772.5h0M935.6 772.8h0M939.4 774.0h0M939.2 773.6h0M944.9 772.6h0M947.2 774.2h0M951.0 772.5h0M952.4 771.4h0M956.2 770.6h0M958.8 771.4h0M958.4 775.0h0M964.2 774.5h0M968.8 773.9h0M970.9 772.6h0M974.3 771.6h0M977.1 773.6h0M978.3 772.7h0M981.1 770.9h0M986.4 774.4h0M988.6 773.3h0M991.3 772.6h0M994.8 772.3h0M999.2 772.6h0M999.6 772.6h0M1000.8 772.8h0M1005.0 772.8h0M1009.5 774.3h0M1011.3 767.6h0M1016.2 771.0h0M1016.5 774.0h0M1021.7 773.4h0M1021.3 772.9h0M1027.6 772.4h0M1028.7 776.6h0M1034.9 771.7h0M1036.7 771.1h0M927.6 775.7h0M928.4 776.4h0M930.3 773.6h0M931.8 773.2h0M937.6 776.8h0M939.2 775.5h0M942.5 776.7h0M947.4 776.3h0M948.9 775.3h0M952.1 774.9h0M956.8 775.1h0M957.3 774.1h0M960.1 774.1h0M963.5 774.9h0M967.6 776.8h0M968.0 777.2h0M973.4 777.3h0M974.8 773.7h0M977.6 775.1h0M981.6 775.0h0M985.4 775.3h0M990.8 774.7h0M988.3 775.8h0M993.3 774.7h0M993.2 777.1h0M997.6 774.4h0M1002.0 773.6h0M1004.8 775.6h0M1007.2 776.0h0M1011.5 776.2h0M1013.4 777.9h0M1015.9 777.2h0M1020.2 776.1h0M1022.8 773.0h0M1023.6 777.6h0M928.6 778.1h0M929.3 778.2h0M930.1 781.2h0M933.8 776.7h0M938.9 777.9h0M940.2 777.4h0M944.1 778.0h0M946.1 777.5h0M948.8 775.8h0M951.3 779.2h0M956.7 779.2h0M957.8 780.5h0M960.3 778.4h0M963.4 779.1h0M966.3 777.1h0M972.1 776.0h0M974.9 779.8h0M977.0 780.7h0M981.5 777.4h0M984.7 777.5h0M988.7 777.7h0M989.4 778.7h0M993.0 777.7h0M998.5 776.2h0M1000.1 777.9h0M1003.8 779.0h0M1005.7 778.7h0M1008.9 775.5h0M1011.7 779.7h0M1015.3 779.4h0M1020.0 777.5h0M1024.5 777.8h0M927.0 779.4h0M933.6 780.9h0M934.7 779.3h0M937.8 781.0h0M939.9 782.9h0M941.2 782.4h0M947.0 780.4h0M949.9 780.6h0M952.3 780.7h0M953.2 781.7h0M956.3 781.3h0M962.8 778.7h0M975.5 779.2h0M980.5 780.9h0M981.5 780.0h0M983.7 780.8h0M986.7 780.9h0M991.3 781.0h0M992.1 780.4h0M995.0 780.4h0M998.7 779.8h0M1004.0 778.4h0M1003.9 779.4h0M1008.2 779.9h0M1012.1 780.3h0M1023.5 778.2h0M929.3 783.8h0M932.7 782.3h0M936.6 785.3h0M937.8 782.2h0M941.6 782.3h0M943.5 783.0h0M946.8 782.5h0M951.1 781.8h0M950.9 783.0h0M955.0 782.0h0M956.9 783.8h0M977.9 781.9h0M981.9 782.4h0M983.6 780.4h0M987.3 781.8h0M988.9 782.3h0M994.5 780.5h0M931.1 786.7h0M934.7 783.7h0M941.0 785.7h0M945.2 785.2h0M948.8 785.6h0M950.4 786.0h0M953.8 784.5h0M1021.7 629.5h0M1021.2 622.4h0M1030.5 625.9h0M1023.4 626.7h0M1025.2 625.1h0M1038.9 628.9h0M1045.0 627.7h0M1047.6 628.9h0M1002.4 633.6h0M1003.6 635.0h0M1011.6 630.0h0M1025.1 625.6h0M1027.4 630.3h0M988.1 632.5h0M1001.2 632.9h0M1006.9 632.8h0M1013.8 633.4h0M1019.8 635.7h0M1028.0 635.9h0M1036.1 632.3h0M1039.1 630.2h0M990.3 638.1h0M998.3 635.7h0M1000.3 635.2h0M1004.6 636.6h0M1009.2 639.8h0M1013.3 634.3h0M1015.3 636.7h0M1019.8 633.1h0M1027.4 638.6h0M992.2 640.2h0M992.2 639.4h0M995.4 639.8h0M1007.3 639.9h0M1010.3 638.4h0M1023.2 639.2h0M1024.7 635.8h0M1044.0 637.9h0M983.5 643.8h0M990.0 644.2h0M993.2 644.5h0M996.8 644.8h0M1004.4 644.3h0M1012.7 643.4h0M1021.2 639.8h0M989.4 644.5h0M989.4 641.6h0M993.2 644.5h0M997.5 645.2h0M1002.5 643.6h0M1007.2 644.6h0M1011.6 642.4h0M984.1 650.5h0M991.3 647.6h0M999.3 647.4h0M984.7 649.4h0M985.9 649.8h0M992.3 652.4h0M995.4 652.8h0M973.4 656.4h0M975.9 655.7h0M987.6 654.2h0M990.9 657.9h0M996.0 651.2h0M997.5 654.2h0M967.6 661.1h0M973.2 657.3h0M974.3 657.5h0M980.9 658.2h0M980.2 655.3h0M985.1 658.9h0M990.9 658.6h0M972.9 663.4h0M977.2 661.3h0M973.5 660.9h0M980.9 663.8h0M981.6 664.0h0M961.4 671.7h0M962.2 663.1h0M963.0 665.4h0M984.0 665.5h0M962.7 672.0h0M964.2 667.7h0M971.9 670.0h0M950.7 675.7h0M959.2 672.1h0M958.9 676.0h0M950.4 681.7h0M950.4 682.1h0M947.6 686.9h0M946.7 690.0h0M920.5 623.0h0M926.2 696.7h0M983.0 787.2h0M930.8 787.5h0M1074.2 710.3h0M1084.2 697.0h0M1086.7 662.5h0M1057.5 750.0h0M1022.5 621.2h0M911.3 703.7h0M611.6 643.8h0M618.5 644.3h0M625.4 644.3h0M611.8 646.2h0M620.3 643.7h0M620.7 643.8h0M608.5 648.5h0M611.2 646.8h0M615.3 647.0h0M619.8 646.8h0M622.0 645.7h0M624.2 648.6h0M627.6 646.5h0M608.2 650.9h0M611.1 647.9h0M614.5 648.5h0M619.6 649.1h0M620.7 649.6h0M620.4 649.6h0M626.5 649.9h0M628.6 647.3h0M605.6 652.4h0M610.3 653.7h0M610.4 652.4h0M612.4 652.5h0M618.4 649.6h0M622.4 652.5h0M624.9 654.1h0M630.0 650.3h0M629.0 653.2h0M633.2 651.3h0M636.3 651.5h0M606.8 654.3h0M611.5 658.6h0M614.5 654.1h0M615.4 652.6h0M621.8 654.8h0M623.9 653.3h0M627.0 659.2h0M627.8 656.6h0M633.8 656.6h0M635.5 653.1h0M639.4 654.5h0M640.9 655.8h0M605.6 655.7h0M611.5 659.6h0M609.8 658.9h0M615.1 658.7h0M617.8 658.7h0M623.3 661.5h0M625.9 659.8h0M628.5 657.4h0M630.5 658.0h0M638.0 658.8h0M637.6 658.4h0M641.9 659.8h0M643.9 658.8h0M654.4 658.9h0M652.9 661.2h0M611.5 659.8h0M611.1 665.7h0M618.7 660.7h0M620.6 661.7h0M625.0 657.5h0M624.0 660.3h0M627.8 661.7h0M631.7 659.9h0M635.0 662.3h0M640.1 659.5h0M646.3 660.9h0M648.8 663.5h0M654.1 658.7h0M655.1 663.6h0M661.3 662.8h0M613.3 665.0h0M608.5 662.3h0M620.4 660.3h0M619.1 663.2h0M626.0 665.6h0M628.6 666.2h0M630.2 664.0h0M631.5 664.8h0M637.5 664.6h0M640.7 665.3h0M642.6 663.6h0M645.1 665.4h0M650.4 660.8h0M655.6 665.6h0M657.4 665.8h0M606.0 666.9h0M607.9 665.3h0M613.4 665.8h0M617.6 665.0h0M624.5 665.4h0M626.0 665.1h0M631.0 666.2h0M632.4 664.8h0M635.0 665.1h0M639.0 668.2h0M641.0 667.6h0M645.9 666.5h0M647.6 666.5h0M650.2 665.4h0M655.1 665.8h0M656.3 669.5h0M661.1 666.2h0M604.8 671.0h0M608.0 669.8h0M611.1 668.3h0M612.0 669.0h0M618.7 669.9h0M619.2 667.9h0M623.2 666.8h0M627.9 669.1h0M633.4 668.7h0M633.5 670.4h0M637.8 667.5h0M640.4 669.3h0M645.4 670.4h0M647.6 670.6h0M647.9 669.2h0M653.1 669.3h0M659.7 669.8h0M604.0 670.8h0M606.9 671.4h0M610.9 671.7h0M614.1 671.6h0M624.7 671.2h0M627.2 674.1h0M632.0 671.1h0M636.3 671.2h0M636.8 671.4h0M642.1 669.7h0M646.4 671.2h0M645.5 672.8h0M652.0 670.6h0M656.6 672.6h0M655.7 672.9h0M603.7 673.4h0M605.2 672.1h0M606.5 674.3h0M612.3 675.8h0M617.8 672.7h0M617.5 673.3h0M620.1 674.0h0M627.4 674.4h0M632.0 673.1h0M633.1 673.7h0M635.4 674.7h0M639.1 673.1h0M641.9 677.9h0M646.3 674.2h0M648.0 674.5h0M652.3 673.0h0M658.0 674.5h0M657.6 676.2h0M608.3 677.2h0M609.6 678.9h0M614.4 677.1h0M617.6 679.5h0M622.1 675.4h0M624.5 677.1h0M631.6 677.3h0M631.7 676.8h0M636.4 675.5h0M642.1 675.4h0M643.6 677.5h0M647.7 678.5h0M652.8 675.4h0M654.6 676.5h0M658.1 675.5h0M660.7 677.4h0M660.2 677.7h0M605.2 679.6h0M609.0 678.2h0M615.1 680.1h0M614.3 679.9h0M618.3 681.5h0M622.9 682.6h0M624.0 681.8h0M625.7 679.5h0M633.8 679.5h0M630.1 682.6h0M636.4 680.1h0M638.4 678.9h0M647.3 680.2h0M648.6 681.9h0M652.8 681.0h0M659.9 679.0h0M662.3 682.0h0M661.4 681.4h0M667.8 682.6h0M604.1 684.9h0M605.5 684.9h0M608.6 683.2h0M617.3 681.0h0M620.5 681.1h0M624.7 682.8h0M624.4 681.0h0M628.0 682.1h0M631.8 683.2h0M634.4 684.3h0M635.9 685.2h0M639.2 682.6h0M646.7 682.6h0M646.5 684.1h0M649.8 681.7h0M650.4 683.1h0M656.6 682.8h0M662.3 684.3h0M668.6 682.2h0M668.0 683.2h0M667.4 683.4h0M605.2 685.5h0M608.7 686.4h0M609.5 686.9h0M616.1 686.3h0M623.2 684.7h0M625.1 687.4h0M630.5 686.8h0M634.5 686.3h0M638.0 688.1h0M640.0 685.5h0M644.9 686.0h0M646.8 687.2h0M648.7 686.3h0M657.4 685.6h0M659.3 686.9h0M658.5 685.3h0M663.0 683.4h0M610.0 687.5h0M613.4 690.1h0M615.8 684.4h0M618.6 688.2h0M625.4 689.2h0M626.4 691.5h0M627.6 685.4h0M631.0 688.1h0M633.6 688.5h0M639.6 687.3h0M642.2 687.4h0M646.6 689.2h0M648.8 690.3h0M649.9 688.9h0M652.9 685.7h0M658.7 688.4h0M663.7 687.9h0M610.4 693.8h0M607.7 692.4h0M614.7 691.5h0M614.7 693.4h0M619.5 691.8h0M625.8 690.4h0M630.3 690.4h0M631.9 693.8h0M635.6 689.6h0M639.7 693.7h0M643.6 692.2h0M648.0 692.3h0M649.5 690.1h0M652.9 692.9h0M608.0 692.4h0M609.1 694.6h0M611.8 691.5h0M617.6 692.5h0M620.0 694.7h0M624.0 694.2h0M623.3 693.0h0M633.4 694.3h0M635.8 692.6h0M635.6 694.1h0M640.8 695.7h0M647.8 694.9h0M647.6 694.3h0M651.9 693.6h0M610.5 695.0h0M613.8 699.1h0M617.1 695.7h0M621.3 696.3h0M624.3 697.9h0M626.6 694.4h0M628.2 697.0h0M635.4 698.3h0M637.7 698.0h0M638.3 698.0h0M642.8 695.7h0M645.6 699.7h0M649.5 696.1h0M652.6 700.3h0M656.0 696.1h0M613.0 701.2h0M612.5 699.1h0M617.9 698.6h0M617.7 700.0h0M625.9 696.6h0M630.4 699.9h0M632.8 698.6h0M635.7 701.0h0M639.2 702.0h0M640.7 700.5h0M645.6 701.7h0M648.8 699.8h0M653.7 700.1h0M655.6 698.6h0M622.7 702.3h0M622.8 702.6h0M628.0 702.6h0M629.8 702.6h0M634.0 705.7h0M637.3 702.3h0M640.9 703.1h0M643.9 702.9h0M647.7 704.0h0M624.3 705.8h0M628.5 700.6h0M636.0 703.3h0M641.4 702.9h0M668.3 688.3h0M673.3 685.8h0M675.0 690.8h0M677.5 692.5h0M670.0 692.5h0M680.0 697.5h0M660.8 696.7h0M665.0 697.5h0M678.3 702.5h0M681.7 704.2h0M685.0 705.8h0M667.5 704.2h0M665.8 707.5h0M665.0 710.0h0M656.7 706.7h0M659.2 705.0h0M671.7 715.0h0M675.0 712.5h0M652.0 654.7h0M686.8 708.7h0M681.2 711.8h0M683.3 710.0h0M685.9 711.9h0M683.0 713.9h0M683.4 714.1h0M685.1 712.5h0M688.5 712.5h0M680.8 714.1h0M683.0 716.3h0M685.7 715.4h0M689.5 715.3h0M689.5 715.9h0M681.8 718.1h0M683.4 718.3h0M685.5 716.9h0M688.2 716.4h0M681.9 720.6h0M682.9 722.1h0M688.1 720.2h0M689.5 720.6h0M686.3 721.7h0M687.3 722.3h0M680.0 728.3h0M685.0 726.7h0M687.5 729.2h0M688.3 734.2h0M691.7 733.3h0M733.3 718.0h0M739.2 720.0h0M608.3 712.2h0M609.7 715.0h0M605.0 721.7h0M603.7 724.7h0M600.8 730.3h0M598.3 735.3h0M595.8 739.7h0M594.2 742.5h0M593.0 745.0h0M590.5 748.0h0M632.5 711.2h0M625.0 707.0h0M611.3 701.7h0M555.6 764.6h0M555.8 765.3h0M563.5 763.1h0M564.1 763.7h0M574.3 763.2h0M560.8 768.1h0M563.4 767.7h0M576.0 767.0h0M575.4 770.4h0M553.0 769.1h0M557.8 771.1h0M560.1 769.0h0M561.5 770.0h0M565.5 768.3h0M568.8 768.3h0M570.3 771.3h0M577.0 769.9h0M580.8 770.3h0M582.5 771.7h0M551.0 775.5h0M552.6 774.7h0M556.4 772.4h0M557.5 773.3h0M562.2 775.8h0M563.6 774.9h0M566.6 773.0h0M570.0 773.6h0M571.4 775.6h0M576.1 772.5h0M582.2 774.8h0M591.2 773.6h0M550.3 773.3h0M552.3 774.4h0M555.8 774.2h0M562.8 775.1h0M566.7 773.4h0M568.3 775.6h0M574.4 776.3h0M575.8 775.8h0M579.9 775.3h0M582.8 778.3h0M584.4 776.2h0M588.5 772.7h0M590.7 775.7h0M558.8 776.9h0M563.5 778.4h0M567.8 775.9h0M573.7 780.4h0M570.5 778.6h0M577.4 777.6h0M584.4 777.7h0M581.8 779.0h0M586.5 779.2h0M591.3 775.4h0M559.6 780.0h0M564.2 780.8h0M568.1 781.9h0M567.6 782.7h0M571.4 782.0h0M576.6 780.2h0M578.9 780.6h0M584.3 779.9h0M585.2 781.2h0M564.9 783.0h0M568.3 783.6h0M564.2 789.7h0M563.5 789.8h0M560.8 793.3h0M560.9 792.6h0M563.0 795.8h0M562.8 795.1h0M621.7 782.5h0M622.4 783.2h0M620.8 786.7h0M620.5 785.8h0M580.0 763.3h0M579.6 762.3h0M549.5 775.8h0M550.0 776.2h0M348.9 717.5h0M339.7 723.4h0M350.9 720.4h0M350.4 720.8h0M356.8 721.6h0M358.8 719.6h0M366.4 719.7h0M337.0 723.4h0M341.8 722.1h0M346.4 725.1h0M351.6 724.6h0M356.2 726.2h0M356.9 720.6h0M364.1 724.1h0M366.3 720.0h0M371.6 726.2h0M335.4 728.2h0M333.8 726.0h0M339.4 725.9h0M346.5 726.5h0M348.8 727.0h0M354.7 728.8h0M357.1 727.0h0M368.6 731.1h0M370.2 726.9h0M330.3 730.7h0M333.7 730.9h0M337.6 729.0h0M341.7 733.2h0M348.6 730.8h0M351.3 731.5h0M355.1 730.3h0M357.3 731.0h0M364.0 732.6h0M331.4 733.5h0M338.1 732.2h0M340.4 735.1h0M344.0 733.5h0M350.1 732.5h0M354.4 737.2h0M353.8 734.7h0M361.2 738.2h0M363.4 735.5h0M370.2 734.9h0M328.4 738.0h0M338.8 736.7h0M341.3 739.8h0M346.2 740.4h0M353.8 738.3h0M359.9 740.0h0M362.9 735.0h0M363.6 739.1h0M368.8 742.4h0M331.3 743.2h0M331.7 741.7h0M335.0 743.6h0M338.5 740.1h0M350.1 738.7h0M352.7 740.5h0M359.6 742.8h0M363.1 740.9h0M330.0 747.2h0M333.1 743.2h0M342.5 745.4h0M348.9 744.5h0M348.1 746.7h0M358.3 747.9h0M363.9 742.9h0M371.0 746.3h0M329.5 751.6h0M334.9 747.5h0M333.4 750.5h0M344.9 749.2h0M345.9 746.7h0M353.9 748.7h0M356.0 750.5h0M363.5 750.7h0M370.0 750.2h0M371.6 748.9h0M374.6 748.9h0M330.9 753.1h0M333.1 752.0h0M335.6 755.2h0M343.5 750.5h0M346.1 754.0h0M350.4 755.0h0M360.9 754.9h0M364.9 756.4h0M372.5 752.8h0M374.8 753.6h0M381.2 751.4h0M328.6 756.8h0M335.4 755.7h0M341.2 753.3h0M351.3 755.9h0M354.6 753.7h0M360.6 755.4h0M366.6 755.3h0M373.9 757.4h0M381.1 753.3h0M324.1 761.3h0M325.7 761.3h0M328.5 758.8h0M331.7 761.9h0M335.8 759.4h0M342.8 757.4h0M345.7 758.7h0M352.4 757.9h0M358.8 759.7h0M360.1 761.0h0M361.6 759.3h0M370.9 759.7h0M375.4 762.8h0M376.1 759.2h0M382.8 760.5h0M323.9 761.3h0M324.9 763.0h0M331.5 766.5h0M336.7 760.9h0M337.8 762.2h0M343.9 763.7h0M349.6 762.4h0M356.4 763.6h0M359.9 760.6h0M369.1 764.2h0M375.6 764.5h0M383.5 763.9h0M385.4 761.9h0M388.0 763.0h0M320.4 768.7h0M328.4 767.0h0M330.3 766.9h0M334.4 763.3h0M337.8 769.8h0M342.6 767.3h0M346.0 765.3h0M351.2 768.2h0M358.1 769.2h0M356.8 769.1h0M361.5 765.3h0M369.9 766.0h0M369.9 766.7h0M374.8 770.4h0M379.5 767.5h0M383.6 768.1h0M390.5 768.7h0M318.3 770.7h0M325.3 770.2h0M332.2 770.4h0M330.4 771.0h0M335.9 772.0h0M344.3 768.8h0M347.9 769.4h0M348.8 767.8h0M356.6 771.6h0M360.3 771.7h0M364.4 772.6h0M368.5 769.8h0M373.0 772.8h0M381.6 767.2h0M386.1 772.9h0M387.9 768.6h0M391.9 770.3h0M321.0 775.8h0M324.6 774.2h0M328.7 774.5h0M332.6 773.4h0M339.8 773.8h0M342.2 775.2h0M347.6 773.6h0M349.8 773.4h0M352.8 774.3h0M357.4 774.2h0M363.4 771.9h0M362.7 775.4h0M373.3 772.1h0M374.5 774.1h0M379.9 774.8h0M386.0 776.0h0M387.7 772.0h0M323.2 778.6h0M322.1 777.8h0M325.7 774.9h0M332.0 775.9h0M335.5 777.1h0M342.1 780.2h0M349.0 776.6h0M353.3 777.9h0M357.3 775.9h0M360.5 779.6h0M363.7 779.4h0M368.6 774.9h0M371.3 778.7h0M377.9 778.0h0M382.1 778.5h0M384.9 776.1h0M391.0 777.0h0M394.0 776.5h0M317.5 780.2h0M317.8 782.1h0M321.9 778.9h0M322.9 780.5h0M333.5 781.4h0M336.9 782.4h0M337.7 784.6h0M345.4 780.0h0M345.6 782.1h0M351.6 779.9h0M357.2 781.3h0M357.8 779.4h0M359.6 781.3h0M370.8 783.7h0M371.8 782.7h0M372.3 780.3h0M381.9 779.0h0M386.6 782.5h0M392.3 779.8h0M313.8 786.6h0M320.2 784.5h0M322.6 785.4h0M332.3 787.1h0M336.5 784.4h0M338.4 782.0h0M347.3 786.0h0M345.8 783.8h0M352.7 786.5h0M358.4 783.1h0M360.8 782.0h0M365.2 782.1h0M369.3 784.6h0M371.7 785.8h0M374.4 782.9h0M380.4 785.7h0M389.8 785.1h0M314.4 788.9h0M313.5 789.6h0M324.6 786.4h0M327.4 785.5h0M328.5 791.2h0M335.2 786.5h0M338.0 787.6h0M341.9 787.2h0M346.2 787.1h0M350.8 790.4h0M356.5 789.1h0M362.1 786.5h0M363.0 790.1h0M369.3 789.4h0M375.0 789.5h0M374.7 786.9h0M380.1 786.9h0M391.2 789.2h0M389.8 788.9h0M312.2 790.6h0M315.8 792.5h0M316.8 792.5h0M320.4 790.7h0M328.5 794.9h0M333.5 795.0h0M336.3 794.8h0M338.7 793.3h0M345.6 792.6h0M349.0 795.3h0M350.9 793.2h0M355.1 790.3h0M359.7 790.8h0M367.9 794.6h0M371.1 791.5h0M369.7 795.1h0M377.3 796.3h0M383.6 794.6h0M385.4 790.9h0M388.6 788.6h0M393.7 792.3h0M401.2 793.6h0M403.0 793.9h0M406.1 792.3h0M315.1 793.9h0M317.8 794.0h0M322.5 797.6h0M336.4 797.0h0M336.1 797.5h0M344.0 797.2h0M347.0 794.6h0M350.4 798.1h0M356.7 794.5h0M359.6 796.8h0M368.9 795.6h0M376.0 795.2h0M376.9 798.3h0M385.9 797.2h0M391.5 798.9h0M394.4 798.1h0M393.1 796.1h0M404.0 794.2h0M408.8 797.4h0M413.9 795.8h0M312.1 798.1h0M313.8 799.3h0M316.9 800.4h0M322.7 800.3h0M328.2 798.3h0M334.3 800.2h0M335.7 798.3h0M342.2 803.1h0M360.1 801.4h0M368.9 798.0h0M378.6 800.6h0M383.9 801.8h0M394.7 801.9h0M406.1 801.5h0M408.9 800.3h0M323.1 799.3h0M327.1 803.9h0M333.1 805.2h0M335.0 803.9h0M337.6 805.0h0M342.6 803.2h0M346.9 802.6h0M353.7 803.9h0M360.6 804.6h0M362.6 804.5h0M364.5 804.0h0M374.2 803.3h0M371.4 802.9h0M376.7 801.9h0M384.3 801.4h0M384.7 803.8h0M393.0 806.2h0M395.7 801.7h0M407.2 802.6h0M410.8 801.3h0M413.5 804.4h0M311.6 807.9h0M317.5 806.7h0M317.1 807.5h0M322.4 806.4h0M329.7 804.6h0M332.1 806.7h0M335.3 807.8h0M339.0 804.1h0M345.0 805.2h0M351.8 810.2h0M353.9 802.7h0M355.5 804.8h0M361.0 804.6h0M364.5 804.2h0M368.6 805.9h0M374.4 805.6h0M376.3 806.6h0M384.1 805.1h0M386.9 805.8h0M389.6 805.7h0M394.1 804.2h0M399.2 805.4h0M416.3 806.5h0M420.5 805.1h0M305.7 811.9h0M308.9 812.7h0M314.4 811.4h0M318.1 809.8h0M323.4 812.2h0M322.1 810.1h0M331.7 810.3h0M334.4 807.4h0M340.9 811.7h0M341.8 813.0h0M345.1 810.1h0M348.2 807.3h0M354.7 809.8h0M362.6 809.6h0M362.7 811.2h0M368.4 811.3h0M369.8 808.5h0M379.0 809.7h0M380.9 806.8h0M382.8 813.7h0M387.3 810.8h0M392.6 810.0h0M395.5 807.4h0M417.5 808.1h0M301.8 813.9h0M303.9 813.1h0M308.2 815.5h0M312.8 815.9h0M318.9 814.6h0M321.9 814.8h0M326.5 812.5h0M331.0 810.4h0M333.1 816.3h0M340.8 811.5h0M342.9 810.6h0M347.7 816.4h0M352.8 812.9h0M357.6 815.1h0M360.0 813.4h0M368.6 814.7h0M373.0 813.5h0M383.9 810.4h0M385.6 811.8h0M389.5 812.8h0M393.5 812.3h0M396.0 813.6h0M296.8 818.8h0M307.1 818.3h0M308.0 816.4h0M315.9 821.9h0M316.9 813.7h0M321.4 816.3h0M326.7 815.5h0M330.2 819.8h0M332.4 820.1h0M335.5 817.1h0M344.9 816.1h0M346.0 817.2h0M349.9 816.8h0M351.2 817.1h0M357.6 820.5h0M364.7 816.0h0M367.2 818.6h0M371.6 819.4h0M371.9 819.9h0M378.1 818.1h0M380.6 818.7h0M390.0 818.8h0M391.0 818.1h0M398.1 817.5h0M295.6 820.9h0M297.9 820.8h0M299.9 820.7h0M304.7 819.1h0M312.4 822.1h0M315.1 823.3h0M319.9 818.2h0M323.2 821.0h0M328.0 817.4h0M334.9 817.9h0M339.7 820.4h0M336.4 822.0h0M346.4 820.8h0M351.1 819.1h0M357.1 824.2h0M364.2 820.6h0M362.8 821.1h0M364.5 820.6h0M372.9 820.6h0M375.6 816.9h0M381.7 818.1h0M393.8 819.2h0M399.9 822.7h0M293.5 823.2h0M294.8 824.2h0M303.3 826.5h0M306.6 822.0h0M314.0 823.5h0M316.2 825.9h0M321.4 824.8h0M325.0 823.0h0M327.7 826.0h0M335.3 825.5h0M345.7 823.1h0M358.3 826.4h0M359.3 822.7h0M361.5 825.1h0M371.7 822.7h0M373.7 823.6h0M377.8 825.2h0M387.8 825.1h0M392.3 824.8h0M393.6 825.8h0M402.4 824.3h0M292.2 827.7h0M295.0 827.6h0M295.7 829.0h0M301.5 829.1h0M309.6 828.0h0M314.0 830.1h0M317.9 827.3h0M322.9 828.3h0M327.9 824.5h0M329.9 831.5h0M337.5 827.6h0M343.5 827.8h0M344.5 829.8h0M348.1 829.4h0M353.2 827.7h0M356.3 826.4h0M358.7 830.4h0M367.3 828.2h0M368.1 827.2h0M374.0 830.1h0M383.4 829.1h0M388.5 829.7h0M389.7 827.2h0M396.7 829.8h0M402.1 827.2h0M292.5 829.6h0M295.8 830.7h0M301.9 829.2h0M304.2 830.6h0M310.4 833.5h0M311.7 834.1h0M316.7 829.8h0M321.8 831.5h0M329.4 829.9h0M329.5 830.9h0M333.7 830.7h0M337.5 832.5h0M342.0 831.4h0M347.5 833.7h0M350.2 832.5h0M356.3 828.7h0M359.2 834.7h0M361.4 831.4h0M365.6 833.7h0M372.0 831.8h0M376.9 835.1h0M379.8 831.1h0M387.3 832.1h0M385.0 833.9h0M389.1 832.7h0M395.5 830.6h0M401.8 831.3h0M402.8 832.1h0M407.2 833.4h0M299.1 832.6h0M302.0 832.4h0M308.0 836.8h0M309.5 833.4h0M314.4 836.5h0M319.4 836.3h0M323.1 837.2h0M328.4 835.6h0M332.3 833.3h0M332.9 836.6h0M338.1 829.8h0M344.5 835.6h0M347.7 838.9h0M354.6 832.2h0M358.2 834.8h0M362.6 833.4h0M367.9 837.6h0M373.4 834.3h0M383.6 836.5h0M388.7 832.4h0M391.5 834.3h0M392.9 835.7h0M401.7 835.5h0M403.7 830.9h0M300.7 838.5h0M305.9 840.0h0M307.5 840.7h0M314.3 837.8h0M317.7 837.5h0M326.4 836.6h0M331.8 840.1h0M334.0 837.4h0M342.3 840.3h0M345.7 837.3h0M351.1 836.6h0M356.3 837.9h0M356.6 837.7h0M362.6 839.1h0M368.0 839.3h0M376.5 840.3h0M374.1 839.3h0M386.9 839.5h0M388.4 837.1h0M306.6 845.6h0M311.5 843.8h0M315.5 841.9h0M319.9 839.9h0M326.0 841.5h0M330.5 845.0h0M331.9 839.0h0M335.9 840.8h0M341.3 840.9h0M345.7 842.0h0M350.9 841.5h0M352.1 844.5h0M356.0 841.4h0M360.9 840.0h0M365.7 844.0h0M371.3 844.9h0M373.8 841.2h0M378.7 843.8h0M383.3 843.4h0M301.3 842.4h0M302.2 844.4h0M311.6 843.8h0M312.9 847.7h0M317.3 843.8h0M320.0 849.2h0M325.6 846.5h0M329.2 845.8h0M336.8 844.8h0M338.0 846.4h0M342.1 845.1h0M345.3 846.5h0M350.9 844.7h0M356.1 845.3h0M356.1 845.0h0M365.1 846.2h0M365.0 847.6h0M369.3 845.0h0M374.6 845.4h0M382.3 848.1h0M308.6 851.7h0M314.3 847.5h0M319.6 851.3h0M332.2 847.4h0M336.8 849.1h0M338.6 850.6h0M343.8 848.3h0M348.5 850.1h0M352.2 847.6h0M354.8 852.8h0M359.7 851.1h0M377.3 848.6h0M383.6 846.5h0M313.5 854.6h0M321.8 854.8h0M326.4 853.9h0M333.8 853.6h0M339.5 854.7h0M341.1 852.1h0M349.6 853.2h0M349.0 851.8h0M355.3 852.7h0M356.7 850.9h0M360.2 851.8h0M305.7 856.8h0M311.2 853.7h0M311.8 857.0h0M317.1 856.7h0M324.3 858.8h0M328.1 855.1h0M336.1 855.8h0M349.7 855.6h0M352.9 857.6h0M314.1 856.9h0M319.0 861.0h0M333.9 859.9h0M339.4 859.2h0M346.7 858.9h0M351.9 861.6h0M316.1 863.3h0M318.5 861.5h0M335.4 861.5h0M347.9 862.9h0M366.1 730.0h0M340.1 746.1h0M341.2 722.9h0M332.6 741.9h0M345.5 731.5h0M368.0 725.4h0M349.9 726.3h0M354.5 721.1h0M363.6 746.0h0M343.8 737.1h0M349.0 745.8h0M354.5 748.3h0M349.5 739.3h0M331.5 732.7h0M339.2 726.7h0M420.5 805.6h0M403.4 793.7h0M410.3 800.3h0M404.0 796.8h0M407.8 792.3h0M397.1 799.0h0M415.7 804.6h0M399.2 795.7h0M411.7 804.1h0M413.2 800.3h0M408.1 798.2h0M413.3 793.4h0M416.9 801.7h0M407.3 802.6h0M394.2 791.2h0M398.6 792.1h0M408.5 795.2h0M395.7 794.4h0M373.3 766.0h0M352.9 765.9h0M352.8 765.7h0M366.0 766.0h0M380.8 769.3h0M350.8 768.3h0M367.7 770.4h0M385.3 771.0h0M388.2 770.3h0M358.4 770.7h0M367.1 774.8h0M354.1 776.3h0M380.3 778.6h0M349.6 777.7h0M354.1 781.7h0M358.2 780.4h0M364.9 777.6h0M366.6 778.6h0M352.4 780.8h0M376.5 783.2h0M388.5 779.0h0M351.0 784.1h0M358.4 783.1h0M366.2 786.8h0M375.0 785.4h0M378.4 785.2h0M385.3 786.6h0M376.2 787.9h0M362.9 790.0h0M376.7 723.3h0M385.8 728.3h0M380.0 732.5h0M378.3 733.0h0M390.3 742.0h0M378.3 745.0h0M392.5 748.7h0M393.8 755.8h0M389.2 759.2h0M393.0 765.0h0M403.3 765.3h0M404.7 771.7h0M400.8 780.8h0M408.3 781.3h0M404.2 785.8h0M424.9 812.8h0M423.5 814.1h0M421.1 815.5h0M423.4 814.5h0M422.8 819.4h0M424.6 820.4h0M421.8 820.3h0M427.0 820.9h0M410.0 851.7h0M412.8 848.0h0M375.0 860.3h0M354.5 863.3h0M318.8 865.5h0M420.0 823.7h0M412.5 826.3h0M403.0 812.5h0M409.2 815.0h0M437.7 822.6h0M425.8 823.5h0M428.9 824.3h0M428.5 825.8h0M429.0 822.6h0M434.0 824.3h0M433.1 826.7h0M447.2 829.0h0M426.2 827.5h0M433.9 828.9h0M436.6 830.0h0M440.0 828.8h0M447.4 833.0h0M428.8 831.6h0M435.4 831.8h0M440.1 834.0h0M439.0 830.9h0M444.6 831.9h0M444.0 832.5h0M430.2 833.3h0M436.9 834.1h0M442.3 837.6h0M444.7 835.4h0M449.8 837.1h0M435.3 837.0h0M440.1 836.6h0M442.3 835.5h0M442.6 838.9h0M452.3 839.2h0M454.5 836.7h0M455.7 837.0h0M434.6 840.1h0M437.0 840.9h0M448.2 837.8h0M457.2 842.5h0M459.9 842.4h0M462.3 840.1h0M464.0 842.0h0M470.6 842.6h0M462.1 842.7h0M462.1 842.3h0M464.2 842.9h0M467.6 842.8h0M471.8 843.7h0M460.3 844.3h0M462.8 846.6h0M464.9 845.6h0M469.1 847.3h0M470.0 847.0h0M474.5 846.6h0M476.4 847.3h0M459.9 847.3h0M464.6 849.5h0M467.1 850.1h0M470.4 848.6h0M472.3 849.0h0M477.9 848.6h0M478.6 849.8h0M480.5 849.2h0M484.3 847.8h0M462.8 852.4h0M465.3 851.3h0M467.7 849.2h0M470.0 851.7h0M473.4 851.7h0M477.9 852.3h0M480.2 852.3h0M484.2 851.8h0M486.6 852.8h0M462.6 853.0h0M467.9 852.8h0M470.0 853.3h0M475.0 854.4h0M477.5 854.6h0M479.3 852.2h0M481.8 855.1h0M486.1 854.1h0M487.2 854.6h0M466.0 856.7h0M469.6 857.4h0M471.0 857.4h0M474.8 857.5h0M477.1 855.6h0M480.7 857.3h0M483.1 856.4h0M487.4 858.2h0M487.7 858.0h0M491.9 856.0h0M468.3 858.0h0M468.7 860.4h0M472.9 858.9h0M475.8 859.2h0M477.5 859.9h0M482.0 858.1h0M486.5 857.8h0M490.1 859.4h0M471.9 860.9h0M476.0 861.4h0M478.6 861.5h0M479.8 861.6h0M490.1 862.4h0M492.2 861.9h0M470.8 862.8h0M478.8 862.5h0M490.6 861.3h0M455.3 848.3h0M459.3 856.7h0M433.3 839.7h0M420.7 823.3h0M482.0 866.7h0M484.7 869.3h0M486.7 872.7h0M489.3 874.7h0M491.3 877.3h0M492.7 880.7h0M491.3 882.9h0M482.7 870.7h0M488.0 870.7h0M490.7 856.0h0M489.6 862.7h0M499.4 866.0h0M508.1 866.3h0M494.9 869.0h0M500.0 867.2h0M499.3 867.8h0M502.9 867.0h0M507.2 866.9h0M507.1 866.0h0M511.0 868.2h0M497.4 869.2h0M498.5 871.0h0M502.4 869.3h0M505.2 867.7h0M508.9 870.2h0M510.9 868.8h0M513.4 870.0h0M515.8 870.7h0M493.5 870.0h0M493.8 874.4h0M499.8 871.3h0M501.7 871.4h0M503.5 870.9h0M507.2 870.9h0M508.4 872.0h0M512.0 873.1h0M514.1 872.3h0M516.9 872.6h0M493.9 875.4h0M495.2 875.4h0M501.7 876.1h0M500.6 873.8h0M504.7 873.7h0M506.3 872.2h0M513.7 876.9h0M514.7 875.8h0M516.2 873.4h0M520.2 875.3h0M492.6 877.6h0M497.5 876.4h0M501.2 879.0h0M502.6 875.5h0M506.0 877.4h0M507.2 877.1h0M510.8 878.7h0M513.3 876.1h0M514.9 877.5h0M518.3 877.3h0M520.5 873.6h0M524.1 877.9h0M495.0 878.8h0M496.8 877.2h0M502.7 880.1h0M502.2 880.0h0M509.9 878.5h0M511.0 881.5h0M513.9 880.0h0M518.5 879.5h0M521.2 879.9h0M523.6 879.2h0M500.9 880.6h0M508.7 882.6h0M511.6 882.2h0M515.9 881.5h0M517.3 880.9h0M522.0 882.1h0M524.2 879.2h0M515.6 882.6h0M519.8 883.2h0M512.4 910.8h0M534.0 909.7h0M517.1 919.3h0M517.6 923.3h0M519.3 933.2h0M523.7 952.1h0M526.9 968.7h0M528.0 972.0h0M528.3 975.3h0M528.7 978.7h0M526.7 968.7h0M524.6 967.9h0M527.7 971.3h0M527.0 972.0h0M528.3 974.0h0M528.3 972.8h0M527.7 976.7h0M527.6 976.2h0M529.1 982.0h0M529.9 982.5h0M530.7 984.7h0M531.4 984.7h0M528.3 986.9h0M527.8 985.7h0M532.0 986.7h0M531.7 987.8h0M533.1 990.0h0M533.5 991.1h0M533.3 992.7h0M534.0 991.5h0M533.1 995.3h0M532.7 996.5h0M540.7 989.3h0M541.1 989.1h0M540.0 993.3h0M538.4 993.0h0M538.9 997.3h0M537.8 998.4h0M543.7 1000.7h0M542.9 1000.8h0M540.7 1002.7h0M539.4 1003.4h0M537.3 1003.7h0M536.8 1004.1h0M541.6 1006.4h0M541.3 1007.9h0M442.9 1046.0h0M444.0 1047.2h0M444.7 1044.7h0M445.5 1043.5h0M446.7 1042.9h0M447.6 1044.4h0M448.7 1041.6h0M450.6 1041.8h0M450.0 1040.9h0M450.2 1039.5h0M535.6 1007.0h0M540.3 1007.0h0M541.2 1005.1h0M528.8 1008.9h0M532.3 1008.1h0M536.9 1005.8h0M536.8 1006.7h0M538.9 1005.7h0M526.2 1009.8h0M527.3 1009.2h0M531.9 1009.3h0M534.5 1009.3h0M537.3 1011.5h0M539.1 1011.2h0M521.9 1012.7h0M527.7 1010.8h0M527.6 1010.9h0M532.4 1013.0h0M534.0 1011.2h0M537.5 1013.3h0M522.5 1014.2h0M526.4 1014.0h0M527.6 1013.0h0M530.9 1014.4h0M533.9 1013.3h0M538.0 1014.0h0M524.6 1016.5h0M525.9 1015.6h0M530.9 1016.3h0M531.6 1015.9h0M533.6 1016.8h0M524.9 1019.6h0M523.8 1019.0h0M524.6 1018.6h0M530.3 1018.0h0M621.7 840.5h0M621.7 840.5h0M619.2 843.3h0M618.6 843.7h0M618.3 845.8h0M620.2 846.1h0M620.8 848.3h0M620.4 848.7h0M624.2 853.0h0M622.7 852.3h0M624.2 859.2h0M622.3 857.4h0M625.3 862.5h0M624.8 862.7h0M629.2 870.0h0M629.7 871.1h0M630.8 875.8h0M631.4 875.2h0M632.5 878.3h0M631.3 878.6h0M634.2 880.8h0M634.3 881.7h0M635.8 883.3h0M637.4 882.4h0M637.0 885.3h0M636.3 886.1h0M634.7 890.0h0M635.4 887.6h0M640.0 890.8h0M639.3 890.3h0M642.5 892.5h0M642.4 892.3h0M644.2 895.8h0M644.2 897.7h0M645.8 898.3h0M645.7 897.7h0M640.0 903.0h0M640.9 904.4h0M647.5 903.7h0M648.1 903.3h0M649.2 906.3h0M647.8 905.9h0M646.3 908.7h0M645.6 908.6h0M652.0 912.0h0M652.7 911.7h0M650.0 914.2h0M649.7 915.7h0M645.8 915.0h0M646.7 914.6h0M647.5 917.5h0M647.7 917.6h0M650.8 918.3h0M649.3 919.4h0M643.3 920.8h0M645.8 920.8h0M640.0 924.2h0M639.6 923.2h0M636.7 925.8h0M634.4 925.1h0M638.3 925.0h0M637.8 924.4h0M709.0 846.2h0M705.7 846.3h0M708.2 845.9h0M711.5 846.3h0M717.2 845.9h0M721.6 845.7h0M724.5 845.0h0M728.8 845.4h0M733.6 846.5h0M745.1 844.8h0M750.0 848.5h0M753.5 847.1h0M756.7 848.1h0M708.1 845.3h0M707.6 848.8h0M712.5 846.4h0M720.3 850.2h0M728.0 848.1h0M730.3 846.3h0M731.9 851.8h0M736.3 851.2h0M739.7 848.8h0M743.8 851.6h0M750.1 846.3h0M754.1 848.8h0M752.9 846.3h0M757.5 847.4h0M708.5 849.7h0M707.6 851.3h0M714.9 849.1h0M718.7 851.2h0M724.7 850.3h0M725.5 851.2h0M731.8 853.8h0M732.2 848.1h0M738.0 850.5h0M741.1 851.4h0M744.1 851.0h0M747.1 849.4h0M749.1 850.1h0M754.0 851.0h0M712.3 855.4h0M714.4 853.7h0M713.0 852.5h0M716.3 858.1h0M730.0 851.5h0M729.9 853.6h0M733.1 853.7h0M736.8 853.6h0M742.1 854.8h0M746.8 855.7h0M752.8 853.3h0M711.1 855.5h0M720.1 857.2h0M723.0 854.5h0M727.9 855.6h0M728.8 856.4h0M737.8 853.9h0M743.1 854.6h0M741.2 855.4h0M746.5 855.6h0M748.3 857.1h0M751.8 854.1h0M707.7 856.5h0M713.5 858.4h0M719.3 859.8h0M724.1 860.3h0M725.9 860.0h0M728.4 858.7h0M730.9 860.6h0M732.5 861.1h0M738.0 857.9h0M744.4 860.0h0M744.8 860.0h0M748.4 859.0h0M750.5 858.2h0M721.1 862.2h0M726.5 860.1h0M733.8 820.2h0M716.7 830.0h0M721.3 834.2h0M723.7 839.5h0M742.5 840.5h0M753.0 838.0h0M758.0 841.3h0M705.5 930.0h0M667.5 980.8h0M668.7 981.1h0M667.5 980.4h0M669.2 983.3h0M669.1 983.5h0M669.3 982.5h0M671.7 984.7h0M671.0 984.9h0M671.0 984.4h0M667.0 983.3h0M667.6 982.6h0M667.7 983.6h0M720.9 934.9h0M729.5 933.0h0M731.2 936.2h0M732.2 935.7h0M719.8 935.9h0M720.7 937.3h0M723.6 936.3h0M726.5 936.4h0M732.2 935.6h0M731.6 939.4h0M735.5 935.6h0M738.1 936.9h0M723.9 938.6h0M729.7 937.7h0M731.7 938.3h0M735.1 940.0h0M737.8 940.8h0M737.4 938.6h0M726.8 939.8h0M731.4 942.4h0M734.1 939.0h0M736.2 942.4h0M737.8 938.6h0M731.5 945.3h0M732.2 944.1h0M739.3 942.3h0M727.6 946.0h0M728.0 946.4h0M732.2 946.1h0M726.6 948.0h0M726.8 948.8h0M728.7 951.1h0M733.7 718.0h0M732.8 718.7h0M739.7 720.0h0M739.7 721.3h0M741.7 719.7h0M741.1 720.7h0M743.7 721.3h0M743.1 721.3h0M745.8 718.7h0M743.6 717.5h0M747.5 717.0h0M746.7 718.3h0M750.0 715.3h0M749.7 715.3h0M752.0 716.7h0M751.7 716.7h0M754.3 718.3h0M754.7 718.2h0M763.3 716.0h0M763.4 716.6h0M758.5 784.5h0M758.5 784.8h0M764.7 792.0h0M765.7 791.7h0M763.0 794.2h0M762.4 795.5h0M761.0 796.2h0M761.0 795.6h0M821.3 776.7h0M819.9 775.1h0M823.7 778.7h0M823.7 779.5h0M821.7 780.8h0M820.8 781.0h0M818.3 782.0h0M817.0 781.4h0M820.3 783.7h0M821.3 785.1h0M816.3 789.2h0M815.5 788.4h0M820.8 790.8h0M821.1 791.8h0M822.0 793.3h0M821.0 795.0h0M823.0 795.8h0M823.8 796.8h0" stroke="#d3d3d3" stroke-width="5.3" stroke-linecap="round" fill="none"/>
<circle cx="501.1" cy="866.9" r="2.65" fill="#b69ce3"/><circle cx="520.9" cy="874.4" r="2.65" fill="#c1aede"/><circle cx="510.3" cy="872.3" r="2.65" fill="#c1aede"/><circle cx="513.1" cy="884.3" r="2.65" fill="#c1aede"/><circle cx="516.7" cy="881.6" r="2.65" fill="#b69ce3"/><circle cx="505.6" cy="893.7" r="2.65" fill="#bba5e0"/><circle cx="494.7" cy="869.7" r="2.65" fill="#a480ea"/><circle cx="502.0" cy="869.1" r="2.65" fill="#a07beb"/><circle cx="520.4" cy="879.6" r="2.65" fill="#a886e8"/><circle cx="498.7" cy="881.1" r="2.65" fill="#a480ea"/><circle cx="502.4" cy="881.3" r="2.65" fill="#966eee"/><circle cx="511.6" cy="904.0" r="2.65" fill="#aa89e7"/><circle cx="515.7" cy="915.5" r="2.65" fill="#aa89e7"/><circle cx="508.0" cy="880.7" r="2.65" fill="#784ef5"/><circle cx="515.7" cy="871.5" r="2.65" fill="#673df8"/><circle cx="505.3" cy="886.0" r="2.65" fill="#7248f6"/><circle cx="508.7" cy="886.7" r="2.65" fill="#7248f6"/><circle cx="506.0" cy="889.3" r="2.65" fill="#673df8"/><circle cx="502.7" cy="877.1" r="2.65" fill="#0000ff"/>
<g stroke="#000" stroke-width="3.1" fill="none">
<path d="M95.6 50.5V1121.05"/>
<path d="M94.05 1119.5H1138.8"/>
</g>
<g stroke="#000" stroke-width="3" fill="none">
<path d="M90 277.3H94.5"/><path d="M90 571.0H94.5"/><path d="M90 864.7H94.5"/><path d="M142.8 1120.5V1124.6"/><path d="M311.9 1120.5V1124.6"/><path d="M481.0 1120.5V1124.6"/><path d="M650.1 1120.5V1124.6"/><path d="M819.2 1120.5V1124.6"/><path d="M988.3 1120.5V1124.6"/>
</g>
<text class="t" transform="translate(88.5 288.0) scale(1 1.02)" text-anchor="end">10</text><text class="t" transform="translate(88.5 581.7) scale(1 1.02)" text-anchor="end">0</text><text class="t" transform="translate(88.5 875.4000000000001) scale(1 1.02)" text-anchor="end">-10</text><text class="t" transform="translate(142.8 1147.8) scale(1 1.02)" text-anchor="middle">-15</text><text class="t" transform="translate(311.9 1147.8) scale(1 1.02)" text-anchor="middle">-10</text><text class="t" transform="translate(481.0 1147.8) scale(1 1.02)" text-anchor="middle">-5</text><text class="t" transform="translate(650.1 1147.8) scale(1 1.02)" text-anchor="middle">0</text><text class="t" transform="translate(819.2 1147.8) scale(1 1.02)" text-anchor="middle">5</text><text class="t" transform="translate(988.3 1147.8) scale(1 1.02)" text-anchor="middle">10</text>
<text class="l" transform="translate(538.5 1180.6) scale(1 1.04)">umapNC_1</text>
<text class="l" transform="translate(34.0 663.3) rotate(-90) scale(1 1.04)">umapNC_2</text>
<text transform="translate(554.5 36.5) scale(1 1.04)" font-weight="bold" font-size="34.3">Sult1e1</text>
<defs><linearGradient id="cb" x1="0" y1="1" x2="0" y2="0"><stop offset="0.000" stop-color="#d3d3d3"/><stop offset="0.050" stop-color="#cfcad6"/><stop offset="0.100" stop-color="#cac1d9"/><stop offset="0.150" stop-color="#c6b7db"/><stop offset="0.200" stop-color="#c1aede"/><stop offset="0.250" stop-color="#bba5e0"/><stop offset="0.300" stop-color="#b69ce3"/><stop offset="0.350" stop-color="#b093e5"/><stop offset="0.400" stop-color="#aa89e7"/><stop offset="0.450" stop-color="#a480ea"/><stop offset="0.500" stop-color="#9d77ec"/><stop offset="0.550" stop-color="#966eee"/><stop offset="0.600" stop-color="#8e65f0"/><stop offset="0.650" stop-color="#855bf2"/><stop offset="0.700" stop-color="#7c51f4"/><stop offset="0.750" stop-color="#7248f6"/><stop offset="0.800" stop-color="#673df8"/><stop offset="0.850" stop-color="#5932fa"/><stop offset="0.900" stop-color="#4926fb"/><stop offset="0.950" stop-color="#3318fd"/><stop offset="1.000" stop-color="#0000ff"/></linearGradient></defs>
<rect x="1151" y="547.6" width="15.9" height="76.2" fill="url(#cb)"/>
<g stroke="#fff" stroke-width="0.9" stroke-opacity="0.85"><path d="M1151 560.25h3.2M1167 560.25h-3.2"/><path d="M1151 581.25h3.2M1167 581.25h-3.2"/><path d="M1151 602.3h3.2M1167 602.3h-3.2"/></g>
<text class="g" transform="translate(1173.9 569.5) scale(1 1.04)">3</text><text class="g" transform="translate(1173.9 590.8) scale(1 1.04)">2</text><text class="g" transform="translate(1173.9 611.6) scale(1 1.04)">1</text><text class="g" transform="translate(1173.9 633.9) scale(1 1.04)">0</text>
</svg>
</body></html>
